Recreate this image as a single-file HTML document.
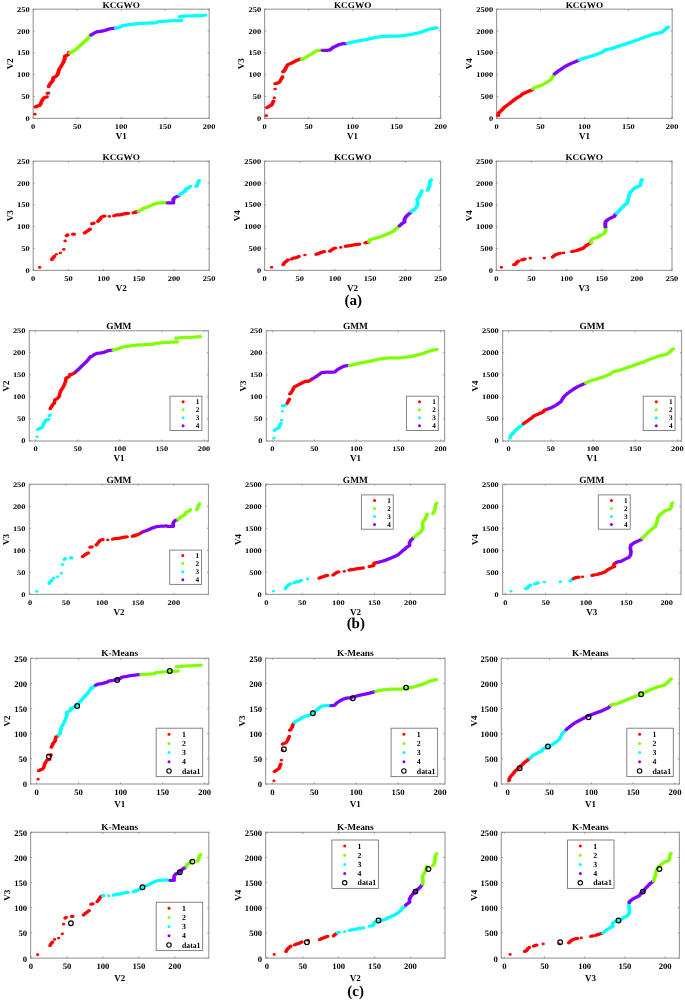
<!DOCTYPE html>
<html><head><meta charset="utf-8"><style>
html,body{margin:0;padding:0;background:#fff;}
svg{display:block;filter:blur(0.35px);}
text{font-family:"Liberation Serif",serif;fill:#000;text-rendering:geometricPrecision;}
.tk{font-size:8.0px;font-weight:bold;}
.lb{font-size:9.0px;font-weight:bold;}
.tt{font-size:9.2px;font-weight:bold;}
.lg{font-size:7.2px;font-weight:bold;}
.lgc{font-size:7.8px;font-weight:bold;}
.pl{font-size:15px;font-weight:bold;}
</style></head><body>
<svg width="685" height="1000" viewBox="0 0 685 1000">
<rect width="685" height="1000" fill="#fff"/>
<rect x="33.2" y="9.2" width="176.0" height="109.2" fill="none" stroke="#9c9c9c" stroke-width="1.15"/>
<path d="M33.2 118.4v-1.6M33.2 9.2v1.6" stroke="#888" stroke-width="0.8"/>
<text transform="translate(33.20,128.70) scale(1.16,1)" font-size="7.3" font-weight="bold" text-anchor="middle">0</text>
<path d="M77.2 118.4v-1.6M77.2 9.2v1.6" stroke="#888" stroke-width="0.8"/>
<text transform="translate(77.20,128.70) scale(1.16,1)" font-size="7.3" font-weight="bold" text-anchor="middle">50</text>
<path d="M121.2 118.4v-1.6M121.2 9.2v1.6" stroke="#888" stroke-width="0.8"/>
<text transform="translate(121.20,128.70) scale(1.16,1)" font-size="7.3" font-weight="bold" text-anchor="middle">100</text>
<path d="M165.2 118.4v-1.6M165.2 9.2v1.6" stroke="#888" stroke-width="0.8"/>
<text transform="translate(165.20,128.70) scale(1.16,1)" font-size="7.3" font-weight="bold" text-anchor="middle">150</text>
<path d="M209.2 118.4v-1.6M209.2 9.2v1.6" stroke="#888" stroke-width="0.8"/>
<text transform="translate(209.20,128.70) scale(1.16,1)" font-size="7.3" font-weight="bold" text-anchor="middle">200</text>
<path d="M33.2 118.4h1.6M209.2 118.4h-1.6" stroke="#888" stroke-width="0.8"/>
<text transform="translate(29.80,120.90) scale(1.16,1)" font-size="7.3" font-weight="bold" text-anchor="end">0</text>
<path d="M33.2 96.6h1.6M209.2 96.6h-1.6" stroke="#888" stroke-width="0.8"/>
<text transform="translate(29.80,99.06) scale(1.16,1)" font-size="7.3" font-weight="bold" text-anchor="end">50</text>
<path d="M33.2 74.7h1.6M209.2 74.7h-1.6" stroke="#888" stroke-width="0.8"/>
<text transform="translate(29.80,77.22) scale(1.16,1)" font-size="7.3" font-weight="bold" text-anchor="end">100</text>
<path d="M33.2 52.9h1.6M209.2 52.9h-1.6" stroke="#888" stroke-width="0.8"/>
<text transform="translate(29.80,55.38) scale(1.16,1)" font-size="7.3" font-weight="bold" text-anchor="end">150</text>
<path d="M33.2 31.0h1.6M209.2 31.0h-1.6" stroke="#888" stroke-width="0.8"/>
<text transform="translate(29.80,33.54) scale(1.16,1)" font-size="7.3" font-weight="bold" text-anchor="end">200</text>
<path d="M33.2 9.2h1.6M209.2 9.2h-1.6" stroke="#888" stroke-width="0.8"/>
<text transform="translate(29.80,11.70) scale(1.16,1)" font-size="7.3" font-weight="bold" text-anchor="end">250</text>
<text x="121.2" y="139.0" class="lb" text-anchor="middle">V1</text>
<text transform="translate(12.7,63.8) rotate(-90)" x="0" y="0" class="lb" text-anchor="middle">V2</text>
<text transform="translate(121.20,8.10) scale(1.04,1)" font-size="8.9" font-weight="bold" text-anchor="middle">KCGWO</text>
<path transform="scale(1,0.7714)" d="M35.5 138.6h0M36.4 138.0h0M37.3 137.4h0M38.4 137.1h0M39.5 136.7h0M40.5 135.2h0M40.9 133.7h0M41.4 132.3h0M41.9 130.9h0M42.4 129.5h0M43.1 128.3h0M43.9 127.0h0M44.8 126.6h0M45.8 126.1h0M46.8 125.7h0M47.5 121.0h0M48.2 120.6h0M48.7 112.1h0M49.2 110.8h0M49.7 109.6h0M50.4 108.2h0M51.2 106.8h0M51.9 105.8h0M52.6 104.9h0M52.9 103.5h0M53.1 102.1h0M53.4 100.7h0M54.5 100.0h0M55.5 99.2h0M56.5 98.1h0M57.4 96.9h0M58.0 95.4h0M58.2 94.0h0M58.5 92.6h0M58.8 91.2h0M59.2 89.7h0M59.9 88.3h0M60.7 86.9h0M61.4 85.5h0M62.1 84.1h0M62.6 82.8h0M63.1 81.5h0M63.6 80.3h0M63.9 79.1h0M64.3 78.0h0M64.6 76.9h0M64.7 75.5h0M64.9 74.1h0M65.0 72.7h0M65.9 72.2h0M66.8 71.8h0M68.2 70.8h0M68.7 69.4h0M69.1 68.0h0" stroke="#ff0000" stroke-width="4.20" stroke-linecap="round" fill="none"/>
<path transform="scale(1,0.7714)" d="M70.1 68.6h0M71.1 67.9h0M72.0 67.3h0M72.9 66.7h0M73.8 66.1h0M74.5 65.3h0M75.3 64.5h0M76.0 63.7h0M76.7 62.9h0M77.4 62.1h0M78.2 61.4h0M78.9 60.5h0M79.6 59.6h0M80.4 58.7h0M81.1 57.8h0M81.8 56.9h0M82.6 56.1h0M83.3 55.2h0M84.0 54.4h0M84.7 53.5h0M85.5 52.7h0M86.2 51.8h0M86.9 51.0h0M87.5 50.0h0M88.2 49.1h0M88.8 48.1h0M89.4 47.2h0M90.0 46.2h0M90.6 45.3h0" stroke="#80ff00" stroke-width="4.20" stroke-linecap="round" fill="none"/>
<path transform="scale(1,0.7714)" d="M91.3 45.3h0M92.3 44.5h0M93.3 43.6h0M94.2 42.8h0M95.2 42.2h0M96.2 41.7h0M97.2 41.1h0M98.2 41.0h0M99.3 40.8h0M100.4 40.7h0M101.5 40.5h0M102.5 40.3h0M103.5 40.0h0M104.5 39.8h0M105.3 39.4h0M106.2 39.0h0M107.1 38.5h0M108.0 38.1h0M108.8 37.7h0M109.9 37.5h0M111.0 37.2h0M112.1 37.0h0M113.2 36.8h0M114.5 36.6h0" stroke="#8000ff" stroke-width="4.20" stroke-linecap="round" fill="none"/>
<path transform="scale(1,0.7714)" d="M115.8 36.4h0M116.8 36.1h0M117.7 35.8h0M118.6 35.5h0M119.6 35.2h0M120.5 34.9h0M121.4 34.1h0M122.3 33.3h0M123.2 33.1h0M124.1 33.0h0M124.9 32.8h0M125.8 32.6h0M126.7 32.5h0M127.6 32.3h0M128.5 32.1h0M129.4 32.0h0M130.3 31.8h0M131.2 31.6h0M132.1 31.5h0M133.0 31.3h0M134.0 31.2h0M134.9 31.1h0M135.9 30.9h0M136.8 30.8h0M137.8 30.7h0M138.7 30.6h0M139.7 30.4h0M140.7 30.3h0M141.6 30.3h0M142.5 30.2h0M143.4 30.2h0M144.3 30.1h0M145.2 30.1h0M146.1 30.0h0M147.0 30.0h0M147.9 30.0h0M148.8 29.9h0M149.7 29.9h0M150.6 29.8h0M151.5 29.8h0M152.4 29.7h0M153.3 29.7h0M154.2 29.6h0M155.1 29.6h0M156.0 29.5h0M157.5 28.3h0M158.5 28.2h0M159.5 28.1h0M160.4 28.0h0M161.4 27.9h0M162.4 27.8h0M163.4 27.7h0M164.3 27.6h0M165.3 27.5h0M166.3 27.4h0M167.3 27.3h0M168.2 27.1h0M169.2 27.1h0M170.1 27.0h0M171.0 27.0h0M172.0 26.9h0M172.9 26.9h0M173.8 26.8h0M174.8 26.7h0M175.7 26.7h0M176.6 26.6h0M177.6 26.6h0M178.5 26.5h0M179.4 26.5h0M180.3 26.4h0M181.3 26.4h0M179.7 21.6h0M180.7 21.5h0M181.7 21.4h0M182.7 21.2h0M183.7 21.1h0M184.7 21.0h0M185.7 20.9h0M186.6 20.8h0M187.6 20.7h0M188.5 20.7h0M189.4 20.7h0M190.3 20.6h0M191.2 20.6h0M192.2 20.5h0M193.1 20.5h0M194.0 20.5h0M194.9 20.4h0M195.8 20.4h0M196.9 20.3h0M197.9 20.3h0M198.9 20.2h0M199.9 20.1h0M200.9 20.1h0M202.0 20.0h0M203.1 19.9h0M204.2 19.7h0M205.3 19.6h0" stroke="#00ffff" stroke-width="4.20" stroke-linecap="round" fill="none"/>
<path transform="scale(1,0.7714)" d="M34.8 148.0h0" stroke="#ff0000" stroke-width="3.50" stroke-linecap="round" fill="none"/>
<rect x="264.6" y="9.2" width="176.0" height="109.2" fill="none" stroke="#9c9c9c" stroke-width="1.15"/>
<path d="M264.6 118.4v-1.6M264.6 9.2v1.6" stroke="#888" stroke-width="0.8"/>
<text transform="translate(264.60,128.70) scale(1.16,1)" font-size="7.3" font-weight="bold" text-anchor="middle">0</text>
<path d="M308.6 118.4v-1.6M308.6 9.2v1.6" stroke="#888" stroke-width="0.8"/>
<text transform="translate(308.60,128.70) scale(1.16,1)" font-size="7.3" font-weight="bold" text-anchor="middle">50</text>
<path d="M352.6 118.4v-1.6M352.6 9.2v1.6" stroke="#888" stroke-width="0.8"/>
<text transform="translate(352.60,128.70) scale(1.16,1)" font-size="7.3" font-weight="bold" text-anchor="middle">100</text>
<path d="M396.6 118.4v-1.6M396.6 9.2v1.6" stroke="#888" stroke-width="0.8"/>
<text transform="translate(396.60,128.70) scale(1.16,1)" font-size="7.3" font-weight="bold" text-anchor="middle">150</text>
<path d="M440.6 118.4v-1.6M440.6 9.2v1.6" stroke="#888" stroke-width="0.8"/>
<text transform="translate(440.60,128.70) scale(1.16,1)" font-size="7.3" font-weight="bold" text-anchor="middle">200</text>
<path d="M264.6 118.4h1.6M440.6 118.4h-1.6" stroke="#888" stroke-width="0.8"/>
<text transform="translate(261.20,120.90) scale(1.16,1)" font-size="7.3" font-weight="bold" text-anchor="end">0</text>
<path d="M264.6 96.6h1.6M440.6 96.6h-1.6" stroke="#888" stroke-width="0.8"/>
<text transform="translate(261.20,99.06) scale(1.16,1)" font-size="7.3" font-weight="bold" text-anchor="end">50</text>
<path d="M264.6 74.7h1.6M440.6 74.7h-1.6" stroke="#888" stroke-width="0.8"/>
<text transform="translate(261.20,77.22) scale(1.16,1)" font-size="7.3" font-weight="bold" text-anchor="end">100</text>
<path d="M264.6 52.9h1.6M440.6 52.9h-1.6" stroke="#888" stroke-width="0.8"/>
<text transform="translate(261.20,55.38) scale(1.16,1)" font-size="7.3" font-weight="bold" text-anchor="end">150</text>
<path d="M264.6 31.0h1.6M440.6 31.0h-1.6" stroke="#888" stroke-width="0.8"/>
<text transform="translate(261.20,33.54) scale(1.16,1)" font-size="7.3" font-weight="bold" text-anchor="end">200</text>
<path d="M264.6 9.2h1.6M440.6 9.2h-1.6" stroke="#888" stroke-width="0.8"/>
<text transform="translate(261.20,11.70) scale(1.16,1)" font-size="7.3" font-weight="bold" text-anchor="end">250</text>
<text x="352.6" y="139.0" class="lb" text-anchor="middle">V1</text>
<text transform="translate(244.1,63.8) rotate(-90)" x="0" y="0" class="lb" text-anchor="middle">V3</text>
<text transform="translate(352.60,8.10) scale(1.04,1)" font-size="8.9" font-weight="bold" text-anchor="middle">KCGWO</text>
<path transform="scale(1,0.7714)" d="M266.9 139.5h0M268.2 138.6h0M268.9 138.0h0M269.7 137.3h0M271.2 136.4h0M272.1 135.3h0M272.4 134.0h0M272.8 132.7h0M273.5 131.1h0M275.3 108.5h0M276.3 108.1h0M277.9 107.5h0M279.4 106.4h0M280.4 104.8h0M280.9 103.5h0M281.5 102.2h0M282.0 101.0h0M282.5 99.8h0M283.0 92.9h0M284.0 92.3h0M284.5 91.3h0M285.0 90.3h0M285.5 88.9h0M286.1 87.6h0M286.6 86.3h0M287.1 85.0h0M287.8 84.2h0M288.6 83.4h0M289.6 82.8h0M290.7 82.3h0M291.7 81.7h0M292.7 81.0h0M293.7 80.3h0M294.7 79.7h0M295.8 79.0h0M296.8 78.3h0M297.8 77.8h0M298.8 77.3h0M299.8 77.0h0M300.7 76.8h0" stroke="#ff0000" stroke-width="4.20" stroke-linecap="round" fill="none"/>
<path transform="scale(1,0.7714)" d="M301.9 77.0h0M302.9 76.4h0M303.9 75.7h0M304.8 75.0h0M305.6 74.4h0M306.5 73.7h0M307.3 73.0h0M308.2 72.4h0M309.0 71.7h0M310.1 71.1h0M311.1 70.4h0M312.1 69.4h0M313.1 68.4h0M314.0 67.7h0M314.8 66.9h0M315.7 66.2h0M317.0 65.8h0M318.2 65.5h0M319.4 65.4h0M320.6 65.2h0M321.8 65.1h0" stroke="#80ff00" stroke-width="4.20" stroke-linecap="round" fill="none"/>
<path transform="scale(1,0.7714)" d="M322.7 65.2h0M323.7 65.2h0M324.6 65.3h0M325.5 65.3h0M326.4 65.4h0M327.6 65.2h0M328.8 65.0h0M330.0 64.8h0M330.9 63.8h0M331.8 62.8h0M332.7 61.8h0M333.6 61.2h0M334.5 60.6h0M335.4 60.1h0M336.4 59.5h0M337.3 58.9h0M338.2 58.3h0M339.3 57.9h0M340.3 57.5h0M341.3 57.2h0M342.4 56.8h0M343.4 56.7h0M344.5 56.6h0M345.5 56.5h0M346.5 56.5h0" stroke="#8000ff" stroke-width="4.20" stroke-linecap="round" fill="none"/>
<path transform="scale(1,0.7714)" d="M347.5 56.2h0M348.4 55.9h0M349.3 55.6h0M350.2 55.3h0M351.2 55.1h0M352.1 54.8h0M353.0 54.5h0M353.9 54.2h0M354.9 53.9h0M355.8 53.7h0M356.7 53.5h0M357.6 53.3h0M358.6 53.1h0M359.5 52.9h0M360.4 52.7h0M361.3 52.5h0M362.3 52.3h0M363.2 52.0h0M364.1 51.8h0M365.0 51.6h0M366.0 51.4h0M366.9 51.2h0M367.8 50.9h0M368.7 50.6h0M369.7 50.3h0M370.6 50.1h0M371.5 49.8h0M372.4 49.5h0M373.4 49.3h0M374.3 49.0h0M375.2 48.7h0M376.1 48.5h0M377.1 48.2h0M378.0 48.1h0M378.9 47.9h0M379.8 47.8h0M380.8 47.7h0M381.7 47.6h0M382.6 47.5h0M383.5 47.3h0M384.4 47.2h0M385.4 47.1h0M386.3 47.0h0M387.2 46.9h0M388.1 46.7h0M389.1 46.7h0M390.0 46.7h0M390.9 46.7h0M391.8 46.7h0M392.8 46.7h0M393.7 46.7h0M394.6 46.7h0M395.5 46.7h0M396.5 46.7h0M397.4 46.7h0M398.3 46.7h0M399.2 46.7h0M400.2 46.6h0M401.1 46.4h0M402.0 46.3h0M402.9 46.1h0M403.9 46.0h0M404.8 45.8h0M405.7 45.7h0M406.6 45.5h0M407.6 45.4h0M408.5 45.2h0M409.4 45.1h0M410.3 44.9h0M411.3 44.7h0M412.2 44.4h0M413.1 44.1h0M414.0 43.9h0M415.0 43.6h0M415.9 43.3h0M416.8 43.1h0M417.7 42.8h0M418.7 42.5h0M419.6 42.3h0M420.5 42.0h0M421.4 41.7h0M422.4 41.3h0M423.3 40.8h0M424.2 40.4h0M425.1 40.0h0M426.1 39.5h0M427.0 39.1h0M427.9 38.6h0M428.8 38.2h0M429.8 37.8h0M430.7 37.5h0M431.7 37.2h0M432.7 37.0h0M433.7 36.7h0M434.7 36.5h0M435.7 36.2h0M436.7 36.0h0" stroke="#00ffff" stroke-width="4.20" stroke-linecap="round" fill="none"/>
<path transform="scale(1,0.7714)" d="M266.3 149.9h0M274.3 126.7h0M275.1 115.4h0" stroke="#ff0000" stroke-width="3.50" stroke-linecap="round" fill="none"/>
<rect x="496.6" y="9.2" width="175.6" height="109.2" fill="none" stroke="#9c9c9c" stroke-width="1.15"/>
<path d="M496.6 118.4v-1.6M496.6 9.2v1.6" stroke="#888" stroke-width="0.8"/>
<text transform="translate(496.60,128.70) scale(1.16,1)" font-size="7.3" font-weight="bold" text-anchor="middle">0</text>
<path d="M540.5 118.4v-1.6M540.5 9.2v1.6" stroke="#888" stroke-width="0.8"/>
<text transform="translate(540.50,128.70) scale(1.16,1)" font-size="7.3" font-weight="bold" text-anchor="middle">50</text>
<path d="M584.4 118.4v-1.6M584.4 9.2v1.6" stroke="#888" stroke-width="0.8"/>
<text transform="translate(584.40,128.70) scale(1.16,1)" font-size="7.3" font-weight="bold" text-anchor="middle">100</text>
<path d="M628.3 118.4v-1.6M628.3 9.2v1.6" stroke="#888" stroke-width="0.8"/>
<text transform="translate(628.30,128.70) scale(1.16,1)" font-size="7.3" font-weight="bold" text-anchor="middle">150</text>
<path d="M672.2 118.4v-1.6M672.2 9.2v1.6" stroke="#888" stroke-width="0.8"/>
<text transform="translate(672.20,128.70) scale(1.16,1)" font-size="7.3" font-weight="bold" text-anchor="middle">200</text>
<path d="M496.6 118.4h1.6M672.2 118.4h-1.6" stroke="#888" stroke-width="0.8"/>
<text transform="translate(493.20,120.90) scale(1.16,1)" font-size="7.3" font-weight="bold" text-anchor="end">0</text>
<path d="M496.6 96.6h1.6M672.2 96.6h-1.6" stroke="#888" stroke-width="0.8"/>
<text transform="translate(493.20,99.06) scale(1.16,1)" font-size="7.3" font-weight="bold" text-anchor="end">500</text>
<path d="M496.6 74.7h1.6M672.2 74.7h-1.6" stroke="#888" stroke-width="0.8"/>
<text transform="translate(493.20,77.22) scale(1.16,1)" font-size="7.3" font-weight="bold" text-anchor="end">1000</text>
<path d="M496.6 52.9h1.6M672.2 52.9h-1.6" stroke="#888" stroke-width="0.8"/>
<text transform="translate(493.20,55.38) scale(1.16,1)" font-size="7.3" font-weight="bold" text-anchor="end">1500</text>
<path d="M496.6 31.0h1.6M672.2 31.0h-1.6" stroke="#888" stroke-width="0.8"/>
<text transform="translate(493.20,33.54) scale(1.16,1)" font-size="7.3" font-weight="bold" text-anchor="end">2000</text>
<path d="M496.6 9.2h1.6M672.2 9.2h-1.6" stroke="#888" stroke-width="0.8"/>
<text transform="translate(493.20,11.70) scale(1.16,1)" font-size="7.3" font-weight="bold" text-anchor="end">2500</text>
<text x="584.4" y="139.0" class="lb" text-anchor="middle">V1</text>
<text transform="translate(471.8,63.8) rotate(-90)" x="0" y="0" class="lb" text-anchor="middle">V4</text>
<text transform="translate(584.40,8.10) scale(1.04,1)" font-size="8.9" font-weight="bold" text-anchor="middle">KCGWO</text>
<path transform="scale(1,0.7714)" d="M498.1 149.6h0M498.4 148.1h0M498.7 146.6h0M499.5 145.4h0M500.4 144.3h0M501.3 143.2h0M502.2 142.0h0M503.0 141.0h0M503.7 140.0h0M504.5 139.0h0M505.3 138.2h0M506.1 137.5h0M506.8 136.7h0M507.6 136.0h0M508.4 135.2h0M509.2 134.5h0M510.0 133.7h0M510.7 132.9h0M511.5 132.2h0M512.3 131.3h0M513.1 130.5h0M513.9 129.6h0M514.6 129.0h0M515.4 128.3h0M516.2 127.6h0M517.0 127.0h0M517.7 126.3h0M518.5 125.7h0M519.3 125.1h0M520.1 124.5h0M520.9 123.9h0M521.7 122.7h0M522.6 121.6h0M523.6 121.1h0M524.6 120.6h0M525.5 120.1h0M526.4 119.6h0M527.3 119.1h0M528.2 118.6h0M529.0 118.1h0M529.9 117.7h0M530.8 117.2h0M531.7 116.7h0M532.5 116.3h0" stroke="#ff0000" stroke-width="4.20" stroke-linecap="round" fill="none"/>
<path transform="scale(1,0.7714)" d="M533.1 115.2h0M533.7 114.0h0M534.6 113.6h0M535.5 113.3h0M536.3 112.9h0M537.2 112.5h0M538.1 112.1h0M539.0 111.7h0M539.8 111.4h0M540.7 111.0h0M541.6 110.4h0M542.5 109.9h0M543.3 109.3h0M544.2 108.7h0M545.1 108.0h0M546.0 107.4h0M546.8 106.7h0M547.7 106.0h0M548.6 105.2h0M549.5 104.3h0M550.4 103.5h0M551.2 102.7h0M551.7 101.6h0M552.3 100.5h0M552.8 99.5h0M553.3 98.4h0M553.8 97.4h0" stroke="#80ff00" stroke-width="4.20" stroke-linecap="round" fill="none"/>
<path transform="scale(1,0.7714)" d="M554.7 95.9h0M555.4 95.1h0M556.1 94.3h0M556.8 93.6h0M557.5 92.8h0M558.2 92.1h0M559.1 91.3h0M560.0 90.6h0M560.9 89.8h0M561.7 89.0h0M562.6 88.3h0M563.5 87.5h0M564.4 86.8h0M565.2 86.0h0M566.2 85.4h0M567.1 84.8h0M568.0 84.2h0M569.0 83.6h0M569.9 83.0h0M570.9 82.4h0M572.0 81.8h0M573.0 81.3h0M574.0 80.7h0M574.8 80.2h0M575.7 79.8h0M576.5 79.3h0M577.4 78.9h0M578.2 78.4h0" stroke="#8000ff" stroke-width="4.20" stroke-linecap="round" fill="none"/>
<path transform="scale(1,0.7714)" d="M579.3 77.3h0M580.3 77.0h0M581.3 76.6h0M582.2 76.2h0M583.2 75.9h0M584.2 75.5h0M585.1 75.2h0M586.1 74.8h0M587.1 74.4h0M588.0 74.1h0M588.9 73.7h0M589.9 73.4h0M590.8 73.0h0M591.7 72.6h0M592.6 72.3h0M593.6 71.9h0M594.5 71.6h0M595.4 71.2h0M596.3 70.7h0M597.1 70.3h0M598.0 69.8h0M598.9 69.4h0M599.7 69.0h0M600.6 68.5h0M601.5 68.1h0M602.3 67.6h0M603.3 66.6h0M604.2 65.7h0M605.1 64.7h0M606.1 64.5h0M607.1 64.2h0M608.1 64.0h0M609.1 63.7h0M610.1 63.4h0M611.1 63.2h0M612.1 62.9h0M613.0 62.5h0M613.9 62.1h0M614.8 61.7h0M615.8 61.2h0M616.7 60.8h0M617.6 60.4h0M618.5 60.0h0M619.4 59.6h0M620.4 59.2h0M621.3 58.9h0M622.2 58.5h0M623.1 58.1h0M624.1 57.7h0M625.0 57.3h0M625.9 56.9h0M626.8 56.5h0M627.8 56.1h0M628.7 55.7h0M629.6 55.3h0M630.5 54.9h0M631.5 54.5h0M632.4 54.1h0M633.3 53.7h0M634.2 53.3h0M635.2 52.9h0M636.1 52.5h0M637.0 52.1h0M637.9 51.7h0M638.9 51.2h0M639.8 50.7h0M640.7 50.2h0M641.6 49.7h0M642.6 49.3h0M643.5 48.8h0M644.4 48.3h0M645.3 47.8h0M646.3 47.4h0M647.2 47.0h0M648.1 46.6h0M649.0 46.2h0M650.0 45.8h0M650.9 45.4h0M651.8 45.0h0M652.7 44.6h0M653.7 44.2h0M654.7 44.0h0M655.6 43.7h0M656.6 43.5h0M657.6 43.2h0M658.6 42.9h0M659.6 42.7h0M660.6 42.4h0M661.5 41.7h0M662.4 41.0h0M663.4 40.3h0M664.1 39.4h0M664.8 38.5h0M665.5 37.7h0M666.3 36.8h0M667.0 36.0h0M668.1 35.2h0" stroke="#00ffff" stroke-width="4.20" stroke-linecap="round" fill="none"/>
<rect x="33.2" y="161.2" width="176.0" height="109.2" fill="none" stroke="#9c9c9c" stroke-width="1.15"/>
<path d="M33.2 270.4v-1.6M33.2 161.2v1.6" stroke="#888" stroke-width="0.8"/>
<text transform="translate(33.20,280.70) scale(1.16,1)" font-size="7.3" font-weight="bold" text-anchor="middle">0</text>
<path d="M68.4 270.4v-1.6M68.4 161.2v1.6" stroke="#888" stroke-width="0.8"/>
<text transform="translate(68.40,280.70) scale(1.16,1)" font-size="7.3" font-weight="bold" text-anchor="middle">50</text>
<path d="M103.6 270.4v-1.6M103.6 161.2v1.6" stroke="#888" stroke-width="0.8"/>
<text transform="translate(103.60,280.70) scale(1.16,1)" font-size="7.3" font-weight="bold" text-anchor="middle">100</text>
<path d="M138.8 270.4v-1.6M138.8 161.2v1.6" stroke="#888" stroke-width="0.8"/>
<text transform="translate(138.80,280.70) scale(1.16,1)" font-size="7.3" font-weight="bold" text-anchor="middle">150</text>
<path d="M174.0 270.4v-1.6M174.0 161.2v1.6" stroke="#888" stroke-width="0.8"/>
<text transform="translate(174.00,280.70) scale(1.16,1)" font-size="7.3" font-weight="bold" text-anchor="middle">200</text>
<path d="M209.2 270.4v-1.6M209.2 161.2v1.6" stroke="#888" stroke-width="0.8"/>
<text transform="translate(209.20,280.70) scale(1.16,1)" font-size="7.3" font-weight="bold" text-anchor="middle">250</text>
<path d="M33.2 270.4h1.6M209.2 270.4h-1.6" stroke="#888" stroke-width="0.8"/>
<text transform="translate(29.80,272.90) scale(1.16,1)" font-size="7.3" font-weight="bold" text-anchor="end">0</text>
<path d="M33.2 248.6h1.6M209.2 248.6h-1.6" stroke="#888" stroke-width="0.8"/>
<text transform="translate(29.80,251.06) scale(1.16,1)" font-size="7.3" font-weight="bold" text-anchor="end">50</text>
<path d="M33.2 226.7h1.6M209.2 226.7h-1.6" stroke="#888" stroke-width="0.8"/>
<text transform="translate(29.80,229.22) scale(1.16,1)" font-size="7.3" font-weight="bold" text-anchor="end">100</text>
<path d="M33.2 204.9h1.6M209.2 204.9h-1.6" stroke="#888" stroke-width="0.8"/>
<text transform="translate(29.80,207.38) scale(1.16,1)" font-size="7.3" font-weight="bold" text-anchor="end">150</text>
<path d="M33.2 183.0h1.6M209.2 183.0h-1.6" stroke="#888" stroke-width="0.8"/>
<text transform="translate(29.80,185.54) scale(1.16,1)" font-size="7.3" font-weight="bold" text-anchor="end">200</text>
<path d="M33.2 161.2h1.6M209.2 161.2h-1.6" stroke="#888" stroke-width="0.8"/>
<text transform="translate(29.80,163.70) scale(1.16,1)" font-size="7.3" font-weight="bold" text-anchor="end">250</text>
<text x="121.2" y="291.0" class="lb" text-anchor="middle">V2</text>
<text transform="translate(12.7,215.8) rotate(-90)" x="0" y="0" class="lb" text-anchor="middle">V3</text>
<text transform="translate(121.20,160.10) scale(1.04,1)" font-size="8.9" font-weight="bold" text-anchor="middle">KCGWO</text>
<path transform="scale(1,0.7714)" d="M51.9 336.3h0M52.5 335.2h0M53.1 334.2h0M54.2 332.5h0M66.7 305.5h0M67.5 304.6h0M73.1 303.6h0M74.0 303.6h0M84.7 301.9h0M85.8 300.9h0M86.8 299.9h0M87.6 299.2h0M88.4 298.5h0M89.2 297.8h0M90.0 297.1h0M92.1 289.9h0M93.7 289.4h0M98.0 286.9h0M98.8 285.8h0M99.6 284.7h0M100.2 283.7h0M100.7 282.7h0M101.3 281.7h0M102.4 280.7h0M103.4 280.4h0M104.5 280.1h0M114.1 279.7h0M115.3 279.1h0M116.5 278.6h0M117.6 278.6h0M118.6 278.6h0M119.7 278.6h0M120.9 278.3h0M122.1 278.0h0M123.2 277.6h0M124.3 277.3h0M125.3 277.0h0M126.2 276.8h0M127.2 276.7h0M128.1 276.5h0M133.4 275.9h0M135.0 274.9h0M136.6 274.2h0M135.5 275.3h0M136.6 274.7h0M137.7 274.1h0" stroke="#ff0000" stroke-width="4.20" stroke-linecap="round" fill="none"/>
<path transform="scale(1,0.7714)" d="M138.6 273.6h0M139.6 273.2h0M140.5 272.7h0M141.3 272.0h0M142.1 271.3h0M142.9 270.6h0M143.8 269.9h0M144.9 269.5h0M145.9 269.1h0M147.0 268.7h0M147.9 268.2h0M148.7 267.7h0M149.5 267.2h0M150.3 266.7h0M151.4 266.1h0M152.5 265.5h0M153.6 264.9h0M154.7 264.4h0M155.8 263.9h0M156.9 263.5h0M158.0 263.3h0M159.1 263.2h0M160.2 263.0h0M161.3 263.0h0M162.4 262.9h0M163.5 262.8h0M164.6 262.7h0M165.7 262.6h0M166.8 262.5h0" stroke="#80ff00" stroke-width="4.20" stroke-linecap="round" fill="none"/>
<path transform="scale(1,0.7714)" d="M167.8 263.0h0M168.8 263.0h0M169.7 263.0h0M170.6 263.0h0M171.5 263.0h0M172.4 263.0h0M173.3 263.0h0M173.3 261.5h0M173.3 260.0h0M173.3 258.5h0M173.9 257.6h0M174.4 256.6h0M175.0 255.7h0M176.1 255.2h0M177.2 254.7h0M178.2 254.2h0M178.8 253.5h0" stroke="#8000ff" stroke-width="4.20" stroke-linecap="round" fill="none"/>
<path transform="scale(1,0.7714)" d="M179.3 252.5h0M180.3 251.7h0M181.2 250.8h0M182.1 250.0h0M182.9 249.3h0M183.7 248.7h0M184.5 248.1h0M185.4 247.4h0M185.6 246.2h0M185.9 245.0h0M186.8 244.5h0M187.7 244.1h0M188.7 243.6h0M189.5 242.5h0M190.3 241.5h0M196.3 241.5h0M196.9 240.4h0M197.4 239.3h0M197.6 238.2h0M197.8 237.0h0M198.0 235.8h0M199.1 234.1h0" stroke="#00ffff" stroke-width="4.20" stroke-linecap="round" fill="none"/>
<path transform="scale(1,0.7714)" d="M39.7 346.7h0M56.3 329.6h0M60.3 328.0h0M63.8 323.4h0M65.1 312.3h0M109.3 280.5h0" stroke="#ff0000" stroke-width="3.50" stroke-linecap="round" fill="none"/>
<rect x="264.6" y="161.2" width="176.0" height="109.2" fill="none" stroke="#9c9c9c" stroke-width="1.15"/>
<path d="M264.6 270.4v-1.6M264.6 161.2v1.6" stroke="#888" stroke-width="0.8"/>
<text transform="translate(264.60,280.70) scale(1.16,1)" font-size="7.3" font-weight="bold" text-anchor="middle">0</text>
<path d="M299.8 270.4v-1.6M299.8 161.2v1.6" stroke="#888" stroke-width="0.8"/>
<text transform="translate(299.80,280.70) scale(1.16,1)" font-size="7.3" font-weight="bold" text-anchor="middle">50</text>
<path d="M335.0 270.4v-1.6M335.0 161.2v1.6" stroke="#888" stroke-width="0.8"/>
<text transform="translate(335.00,280.70) scale(1.16,1)" font-size="7.3" font-weight="bold" text-anchor="middle">100</text>
<path d="M370.2 270.4v-1.6M370.2 161.2v1.6" stroke="#888" stroke-width="0.8"/>
<text transform="translate(370.20,280.70) scale(1.16,1)" font-size="7.3" font-weight="bold" text-anchor="middle">150</text>
<path d="M405.4 270.4v-1.6M405.4 161.2v1.6" stroke="#888" stroke-width="0.8"/>
<text transform="translate(405.40,280.70) scale(1.16,1)" font-size="7.3" font-weight="bold" text-anchor="middle">200</text>
<path d="M440.6 270.4v-1.6M440.6 161.2v1.6" stroke="#888" stroke-width="0.8"/>
<text transform="translate(440.60,280.70) scale(1.16,1)" font-size="7.3" font-weight="bold" text-anchor="middle">250</text>
<path d="M264.6 270.4h1.6M440.6 270.4h-1.6" stroke="#888" stroke-width="0.8"/>
<text transform="translate(261.20,272.90) scale(1.16,1)" font-size="7.3" font-weight="bold" text-anchor="end">0</text>
<path d="M264.6 248.6h1.6M440.6 248.6h-1.6" stroke="#888" stroke-width="0.8"/>
<text transform="translate(261.20,251.06) scale(1.16,1)" font-size="7.3" font-weight="bold" text-anchor="end">500</text>
<path d="M264.6 226.7h1.6M440.6 226.7h-1.6" stroke="#888" stroke-width="0.8"/>
<text transform="translate(261.20,229.22) scale(1.16,1)" font-size="7.3" font-weight="bold" text-anchor="end">1000</text>
<path d="M264.6 204.9h1.6M440.6 204.9h-1.6" stroke="#888" stroke-width="0.8"/>
<text transform="translate(261.20,207.38) scale(1.16,1)" font-size="7.3" font-weight="bold" text-anchor="end">1500</text>
<path d="M264.6 183.0h1.6M440.6 183.0h-1.6" stroke="#888" stroke-width="0.8"/>
<text transform="translate(261.20,185.54) scale(1.16,1)" font-size="7.3" font-weight="bold" text-anchor="end">2000</text>
<path d="M264.6 161.2h1.6M440.6 161.2h-1.6" stroke="#888" stroke-width="0.8"/>
<text transform="translate(261.20,163.70) scale(1.16,1)" font-size="7.3" font-weight="bold" text-anchor="end">2500</text>
<text x="352.6" y="291.0" class="lb" text-anchor="middle">V2</text>
<text transform="translate(239.8,215.8) rotate(-90)" x="0" y="0" class="lb" text-anchor="middle">V4</text>
<text transform="translate(352.60,160.10) scale(1.04,1)" font-size="8.9" font-weight="bold" text-anchor="middle">KCGWO</text>
<path transform="scale(1,0.7714)" d="M283.4 343.1h0M283.9 342.0h0M284.4 340.8h0M285.7 339.2h0M286.4 338.5h0M287.2 337.7h0M287.9 337.0h0M291.8 335.6h0M292.7 335.1h0M293.5 334.7h0M294.8 334.4h0M296.2 334.0h0M297.0 333.5h0M297.9 333.0h0M298.8 332.4h0M316.3 329.7h0M317.2 329.2h0M318.1 328.8h0M318.9 328.3h0M319.8 328.0h0M320.7 327.6h0M321.6 327.2h0M322.4 326.8h0M323.3 326.4h0M324.2 326.1h0M330.0 325.6h0M331.2 324.2h0M332.1 323.5h0M333.0 322.7h0M334.1 322.1h0M335.2 321.5h0M345.7 319.3h0M346.7 319.0h0M347.7 318.8h0M348.7 318.6h0M350.0 318.3h0M351.3 318.1h0M352.7 317.8h0M354.0 317.4h0M355.3 317.2h0M356.6 317.0h0M357.9 316.8h0M359.2 316.5h0M365.4 314.7h0M367.1 314.3h0M368.2 313.9h0" stroke="#ff0000" stroke-width="4.20" stroke-linecap="round" fill="none"/>
<path transform="scale(1,0.7714)" d="M369.2 313.6h0M369.6 312.0h0M370.0 310.5h0M371.1 310.2h0M372.2 309.8h0M373.3 309.5h0M374.4 309.1h0M375.5 308.7h0M376.6 308.4h0M377.7 308.0h0M378.8 307.6h0M379.9 307.2h0M380.9 306.7h0M382.0 306.1h0M383.1 305.5h0M384.2 305.0h0M385.3 304.4h0M386.4 303.8h0M387.5 303.2h0M388.6 302.6h0M389.7 302.0h0M390.5 301.5h0M391.4 300.9h0M392.2 300.4h0M393.0 299.9h0M393.8 299.0h0M394.6 298.1h0M395.5 297.2h0M396.3 296.3h0M397.1 295.4h0M397.9 294.4h0M398.7 293.5h0" stroke="#80ff00" stroke-width="4.20" stroke-linecap="round" fill="none"/>
<path transform="scale(1,0.7714)" d="M399.6 292.8h0M400.3 291.8h0M401.0 290.9h0M401.8 289.9h0M402.7 289.2h0M403.6 288.5h0M404.5 287.8h0M404.5 286.6h0M404.5 285.4h0M404.5 284.2h0M405.0 283.1h0M405.6 281.9h0M406.1 280.7h0M406.9 279.7h0M407.6 278.8h0M408.3 277.9h0M409.3 276.8h0M410.3 275.7h0" stroke="#8000ff" stroke-width="4.20" stroke-linecap="round" fill="none"/>
<path transform="scale(1,0.7714)" d="M411.1 274.3h0M412.0 273.6h0M412.9 272.9h0M413.8 272.2h0M414.5 271.2h0M415.3 270.3h0M416.0 269.3h0M416.5 268.2h0M417.1 267.0h0M417.6 265.8h0M417.6 264.4h0M417.6 263.0h0M417.6 261.5h0M417.4 260.1h0M417.1 258.7h0M417.6 257.7h0M418.2 256.8h0M418.7 255.9h0M419.3 254.7h0M419.8 253.5h0M420.4 252.3h0M420.7 251.1h0M421.1 249.9h0M421.5 248.8h0M421.7 247.3h0M427.5 246.6h0M428.0 245.6h0M428.6 244.5h0M428.9 243.1h0M429.3 241.7h0M429.7 240.2h0M429.7 238.8h0M429.7 237.4h0M429.9 236.0h0M430.2 234.6h0M431.1 233.1h0" stroke="#00ffff" stroke-width="4.20" stroke-linecap="round" fill="none"/>
<path transform="scale(1,0.7714)" d="M271.6 346.5h0M304.9 330.6h0M340.8 320.8h0" stroke="#ff0000" stroke-width="3.50" stroke-linecap="round" fill="none"/>
<rect x="496.3" y="161.2" width="175.7" height="109.2" fill="none" stroke="#9c9c9c" stroke-width="1.15"/>
<path d="M496.3 270.4v-1.6M496.3 161.2v1.6" stroke="#888" stroke-width="0.8"/>
<text transform="translate(496.30,280.70) scale(1.16,1)" font-size="7.3" font-weight="bold" text-anchor="middle">0</text>
<path d="M531.4 270.4v-1.6M531.4 161.2v1.6" stroke="#888" stroke-width="0.8"/>
<text transform="translate(531.44,280.70) scale(1.16,1)" font-size="7.3" font-weight="bold" text-anchor="middle">50</text>
<path d="M566.6 270.4v-1.6M566.6 161.2v1.6" stroke="#888" stroke-width="0.8"/>
<text transform="translate(566.58,280.70) scale(1.16,1)" font-size="7.3" font-weight="bold" text-anchor="middle">100</text>
<path d="M601.7 270.4v-1.6M601.7 161.2v1.6" stroke="#888" stroke-width="0.8"/>
<text transform="translate(601.72,280.70) scale(1.16,1)" font-size="7.3" font-weight="bold" text-anchor="middle">150</text>
<path d="M636.9 270.4v-1.6M636.9 161.2v1.6" stroke="#888" stroke-width="0.8"/>
<text transform="translate(636.86,280.70) scale(1.16,1)" font-size="7.3" font-weight="bold" text-anchor="middle">200</text>
<path d="M672.0 270.4v-1.6M672.0 161.2v1.6" stroke="#888" stroke-width="0.8"/>
<text transform="translate(672.00,280.70) scale(1.16,1)" font-size="7.3" font-weight="bold" text-anchor="middle">250</text>
<path d="M496.3 270.4h1.6M672.0 270.4h-1.6" stroke="#888" stroke-width="0.8"/>
<text transform="translate(492.90,272.90) scale(1.16,1)" font-size="7.3" font-weight="bold" text-anchor="end">0</text>
<path d="M496.3 248.6h1.6M672.0 248.6h-1.6" stroke="#888" stroke-width="0.8"/>
<text transform="translate(492.90,251.06) scale(1.16,1)" font-size="7.3" font-weight="bold" text-anchor="end">500</text>
<path d="M496.3 226.7h1.6M672.0 226.7h-1.6" stroke="#888" stroke-width="0.8"/>
<text transform="translate(492.90,229.22) scale(1.16,1)" font-size="7.3" font-weight="bold" text-anchor="end">1000</text>
<path d="M496.3 204.9h1.6M672.0 204.9h-1.6" stroke="#888" stroke-width="0.8"/>
<text transform="translate(492.90,207.38) scale(1.16,1)" font-size="7.3" font-weight="bold" text-anchor="end">1500</text>
<path d="M496.3 183.0h1.6M672.0 183.0h-1.6" stroke="#888" stroke-width="0.8"/>
<text transform="translate(492.90,185.54) scale(1.16,1)" font-size="7.3" font-weight="bold" text-anchor="end">2000</text>
<path d="M496.3 161.2h1.6M672.0 161.2h-1.6" stroke="#888" stroke-width="0.8"/>
<text transform="translate(492.90,163.70) scale(1.16,1)" font-size="7.3" font-weight="bold" text-anchor="end">2500</text>
<text x="584.1" y="291.0" class="lb" text-anchor="middle">V3</text>
<text transform="translate(471.5,215.8) rotate(-90)" x="0" y="0" class="lb" text-anchor="middle">V4</text>
<text transform="translate(584.15,160.10) scale(1.04,1)" font-size="8.9" font-weight="bold" text-anchor="middle">KCGWO</text>
<path transform="scale(1,0.7714)" d="M514.1 343.1h0M515.0 342.5h0M515.9 342.0h0M516.5 340.8h0M517.1 339.7h0M518.2 338.6h0M522.0 337.0h0M522.9 336.6h0M523.8 336.2h0M524.7 335.8h0M552.7 333.3h0M553.9 331.7h0M554.8 330.9h0M555.7 330.2h0M556.8 329.6h0M557.9 329.0h0M559.1 328.7h0M560.2 328.3h0M572.0 326.1h0M573.7 325.6h0M576.3 324.9h0M577.2 324.5h0M578.1 324.2h0M579.0 323.8h0M579.8 323.4h0M580.7 323.0h0M581.6 322.7h0M582.5 322.1h0M583.3 321.5h0M584.2 320.4h0M585.1 319.3h0M586.0 318.5h0M586.9 317.7h0M587.7 317.0h0M588.6 316.4h0M589.5 315.8h0M590.4 315.3h0M590.6 315.0h0M590.8 313.7h0" stroke="#ff0000" stroke-width="4.20" stroke-linecap="round" fill="none"/>
<path transform="scale(1,0.7714)" d="M591.2 314.7h0M591.0 312.5h0M591.2 311.2h0M591.9 310.4h0M592.7 309.7h0M593.5 308.9h0M594.7 308.7h0M595.8 308.4h0M597.0 308.2h0M597.9 307.4h0M598.8 306.7h0M599.6 305.9h0M600.5 305.2h0M601.4 304.6h0M602.3 304.0h0M603.1 303.4h0M604.0 302.9h0M604.5 301.9h0M604.9 300.9h0M605.4 299.9h0M605.5 298.3h0M605.6 296.8h0M605.8 295.3h0" stroke="#80ff00" stroke-width="4.20" stroke-linecap="round" fill="none"/>
<path transform="scale(1,0.7714)" d="M605.4 293.8h0M605.3 292.5h0M605.3 291.3h0M605.2 290.0h0M605.5 288.5h0M605.8 287.0h0M606.5 286.2h0M607.2 285.5h0M608.0 284.7h0M608.7 284.0h0M609.6 283.4h0M610.4 282.8h0M611.3 282.3h0M612.2 281.7h0M613.4 280.9h0M614.5 280.2h0M615.0 279.2h0M615.5 278.2h0M615.9 277.1h0" stroke="#8000ff" stroke-width="4.20" stroke-linecap="round" fill="none"/>
<path transform="scale(1,0.7714)" d="M616.7 276.4h0M617.4 275.6h0M618.0 274.7h0M618.6 273.8h0M619.2 272.9h0M619.8 272.0h0M620.4 271.1h0M621.1 270.2h0M621.8 269.3h0M622.5 268.4h0M623.2 267.5h0M623.9 266.5h0M624.6 265.8h0M625.3 265.0h0M626.1 264.3h0M626.8 263.5h0M627.2 262.3h0M627.6 261.0h0M628.0 259.7h0M628.2 258.5h0M628.3 257.2h0M628.5 255.9h0M628.7 254.7h0M628.9 253.4h0M629.1 252.2h0M629.7 250.9h0M630.3 249.6h0M630.9 248.4h0M631.7 247.4h0M632.4 246.4h0M633.2 245.4h0M634.0 244.6h0M634.8 243.8h0M635.5 243.1h0M636.5 242.6h0M637.5 242.1h0M638.5 241.6h0M639.5 240.8h0M640.5 240.1h0M640.6 238.5h0M640.8 237.0h0M641.1 235.5h0M641.4 234.0h0M642.0 232.8h0" stroke="#00ffff" stroke-width="4.20" stroke-linecap="round" fill="none"/>
<path transform="scale(1,0.7714)" d="M501.4 346.5h0M530.3 334.7h0M544.3 334.5h0M563.6 327.9h0" stroke="#ff0000" stroke-width="3.50" stroke-linecap="round" fill="none"/>
<rect x="29.3" y="330.7" width="179.1" height="110.3" fill="none" stroke="#9c9c9c" stroke-width="1.15"/>
<path d="M35.6 441.0v-1.6M35.6 330.7v1.6" stroke="#888" stroke-width="0.8"/>
<text transform="translate(35.60,451.20) scale(1.2,1)" font-size="7.0" font-weight="bold" text-anchor="middle">0</text>
<path d="M77.7 441.0v-1.6M77.7 330.7v1.6" stroke="#888" stroke-width="0.8"/>
<text transform="translate(77.70,451.20) scale(1.2,1)" font-size="7.0" font-weight="bold" text-anchor="middle">50</text>
<path d="M119.8 441.0v-1.6M119.8 330.7v1.6" stroke="#888" stroke-width="0.8"/>
<text transform="translate(119.80,451.20) scale(1.2,1)" font-size="7.0" font-weight="bold" text-anchor="middle">100</text>
<path d="M161.9 441.0v-1.6M161.9 330.7v1.6" stroke="#888" stroke-width="0.8"/>
<text transform="translate(161.90,451.20) scale(1.2,1)" font-size="7.0" font-weight="bold" text-anchor="middle">150</text>
<path d="M204.0 441.0v-1.6M204.0 330.7v1.6" stroke="#888" stroke-width="0.8"/>
<text transform="translate(204.00,451.20) scale(1.2,1)" font-size="7.0" font-weight="bold" text-anchor="middle">200</text>
<path d="M29.3 441.0h1.6M208.4 441.0h-1.6" stroke="#888" stroke-width="0.8"/>
<text transform="translate(25.50,443.40) scale(1.2,1)" font-size="7.0" font-weight="bold" text-anchor="end">0</text>
<path d="M29.3 418.9h1.6M208.4 418.9h-1.6" stroke="#888" stroke-width="0.8"/>
<text transform="translate(25.50,421.34) scale(1.2,1)" font-size="7.0" font-weight="bold" text-anchor="end">50</text>
<path d="M29.3 396.9h1.6M208.4 396.9h-1.6" stroke="#888" stroke-width="0.8"/>
<text transform="translate(25.50,399.28) scale(1.2,1)" font-size="7.0" font-weight="bold" text-anchor="end">100</text>
<path d="M29.3 374.8h1.6M208.4 374.8h-1.6" stroke="#888" stroke-width="0.8"/>
<text transform="translate(25.50,377.22) scale(1.2,1)" font-size="7.0" font-weight="bold" text-anchor="end">150</text>
<path d="M29.3 352.8h1.6M208.4 352.8h-1.6" stroke="#888" stroke-width="0.8"/>
<text transform="translate(25.50,355.16) scale(1.2,1)" font-size="7.0" font-weight="bold" text-anchor="end">200</text>
<path d="M29.3 330.7h1.6M208.4 330.7h-1.6" stroke="#888" stroke-width="0.8"/>
<text transform="translate(25.50,333.10) scale(1.2,1)" font-size="7.0" font-weight="bold" text-anchor="end">250</text>
<text x="118.9" y="461.3" class="lb" text-anchor="middle">V1</text>
<text transform="translate(8.8,385.9) rotate(-90)" x="0" y="0" class="lb" text-anchor="middle">V2</text>
<text transform="translate(118.85,328.90) scale(1.0,1)" font-size="9.4" font-weight="bold" text-anchor="middle">GMM</text>
<path transform="scale(1,0.8333)" d="M37.8 515.3h0M38.7 514.7h0M39.5 514.2h0M40.6 513.8h0M41.6 513.5h0M42.6 512.1h0M43.0 510.7h0M43.4 509.4h0M43.9 508.1h0M44.4 506.8h0M45.1 505.6h0M45.8 504.5h0M46.7 504.0h0M47.6 503.6h0M48.6 503.2h0M49.3 498.8h0M50.0 498.4h0" stroke="#00ffff" stroke-width="3.89" stroke-linecap="round" fill="none"/>
<path transform="scale(1,0.8333)" d="M50.4 490.5h0M50.9 489.3h0M51.4 488.2h0M52.1 486.9h0M52.8 485.5h0M53.5 484.6h0M54.2 483.8h0M54.4 482.5h0M54.7 481.2h0M54.9 479.9h0M55.9 479.2h0M57.0 478.5h0M57.9 477.4h0M58.8 476.3h0M59.4 474.9h0M59.6 473.6h0M59.8 472.3h0M60.1 470.9h0M60.5 469.6h0M61.2 468.3h0M61.9 467.0h0M62.6 465.6h0M63.3 464.3h0M63.7 463.1h0M64.2 461.9h0M64.7 460.8h0M65.0 459.7h0M65.3 458.6h0M65.6 457.6h0M65.8 456.3h0M65.9 455.0h0M66.1 453.7h0M66.9 453.2h0M67.7 452.8h0M69.1 451.9h0M69.6 450.6h0M70.0 449.3h0M71.0 449.8h0M71.8 449.2h0M72.7 448.6h0M73.6 448.1h0M74.4 447.5h0M75.1 446.8h0" stroke="#ff0000" stroke-width="3.89" stroke-linecap="round" fill="none"/>
<path transform="scale(1,0.8333)" d="M75.8 446.0h0M76.5 445.3h0M77.2 444.5h0M77.9 443.8h0M78.6 443.1h0M79.3 442.2h0M80.0 441.4h0M80.7 440.6h0M81.4 439.8h0M82.1 438.9h0M82.8 438.1h0M83.5 437.3h0M84.2 436.5h0M84.9 435.7h0M85.6 434.9h0M86.3 434.1h0M87.0 433.3h0M87.6 432.4h0M88.2 431.6h0M88.8 430.7h0M89.3 429.8h0M89.9 428.9h0M90.5 428.0h0M91.2 428.0h0M92.1 427.3h0M93.1 426.5h0M94.0 425.7h0M94.9 425.2h0M95.9 424.7h0M96.8 424.1h0M97.8 424.0h0M98.9 423.9h0M99.9 423.7h0M101.0 423.6h0M101.9 423.4h0M102.8 423.1h0M103.8 422.9h0M104.8 422.4h0M105.9 421.9h0M106.9 421.4h0M108.0 420.9h0M109.0 420.7h0M110.1 420.5h0M111.1 420.3h0M112.2 420.1h0" stroke="#8000ff" stroke-width="3.89" stroke-linecap="round" fill="none"/>
<path transform="scale(1,0.8333)" d="M113.4 419.9h0M114.7 419.7h0M115.6 419.4h0M116.5 419.1h0M117.4 418.9h0M118.2 418.6h0M119.1 418.3h0M120.0 417.6h0M120.8 416.8h0M121.7 416.7h0M122.7 416.5h0M123.6 416.3h0M124.5 416.2h0M125.5 416.0h0M126.4 415.8h0M127.3 415.6h0M128.3 415.5h0M129.2 415.3h0M130.1 415.1h0M131.1 415.0h0M132.0 414.9h0M132.9 414.7h0M133.8 414.6h0M134.7 414.5h0M135.7 414.4h0M136.6 414.3h0M137.5 414.2h0M138.4 414.0h0M139.3 414.0h0M140.2 414.0h0M141.2 413.9h0M142.1 413.9h0M143.0 413.8h0M143.9 413.8h0M144.8 413.7h0M145.7 413.7h0M146.7 413.6h0M147.6 413.6h0M148.5 413.5h0M149.4 413.5h0M150.3 413.4h0M151.2 413.4h0M152.2 413.3h0M153.1 413.3h0M154.5 412.2h0M155.5 412.1h0M156.4 412.0h0M157.3 411.9h0M158.3 411.8h0M159.2 411.7h0M160.1 411.6h0M161.1 411.5h0M162.0 411.4h0M162.9 411.3h0M163.9 411.2h0M164.8 411.1h0M165.8 411.0h0M166.7 411.0h0M167.7 410.9h0M168.7 410.8h0M169.6 410.8h0M170.6 410.7h0M171.5 410.7h0M172.5 410.6h0M173.4 410.6h0M174.4 410.5h0M175.4 410.4h0M176.3 410.4h0M177.3 410.3h0M175.8 405.9h0M176.8 405.8h0M177.7 405.7h0M178.6 405.6h0M179.6 405.4h0M180.5 405.3h0M181.5 405.2h0M182.4 405.1h0M183.4 405.1h0M184.4 405.0h0M185.3 405.0h0M186.3 405.0h0M187.3 404.9h0M188.3 404.9h0M189.3 404.8h0M190.2 404.8h0M191.2 404.8h0M192.2 404.7h0M193.2 404.6h0M194.1 404.6h0M195.1 404.5h0M196.1 404.4h0M197.1 404.4h0M198.2 404.3h0M199.2 404.1h0M200.3 404.0h0" stroke="#80ff00" stroke-width="3.89" stroke-linecap="round" fill="none"/>
<path transform="scale(1,0.8333)" d="M37.1 524.1h0" stroke="#00ffff" stroke-width="3.24" stroke-linecap="round" fill="none"/>
<rect x="170.0" y="396.2" width="31.9" height="34.3" fill="#fff" stroke="#777" stroke-width="0.9"/>
<circle cx="183.1" cy="401.7" r="1.5" fill="#ff0000"/>
<text x="195.8" y="404.2" class="lg">1</text>
<circle cx="183.1" cy="409.8" r="1.5" fill="#80ff00"/>
<text x="195.8" y="412.2" class="lg">2</text>
<circle cx="183.1" cy="417.8" r="1.5" fill="#00ffff"/>
<text x="195.8" y="420.3" class="lg">3</text>
<circle cx="183.1" cy="425.8" r="1.5" fill="#8000ff"/>
<text x="195.8" y="428.3" class="lg">4</text>
<rect x="266.3" y="330.7" width="178.3" height="110.3" fill="none" stroke="#9c9c9c" stroke-width="1.15"/>
<path d="M272.3 441.0v-1.6M272.3 330.7v1.6" stroke="#888" stroke-width="0.8"/>
<text transform="translate(272.30,451.20) scale(1.2,1)" font-size="7.0" font-weight="bold" text-anchor="middle">0</text>
<path d="M314.4 441.0v-1.6M314.4 330.7v1.6" stroke="#888" stroke-width="0.8"/>
<text transform="translate(314.35,451.20) scale(1.2,1)" font-size="7.0" font-weight="bold" text-anchor="middle">50</text>
<path d="M356.4 441.0v-1.6M356.4 330.7v1.6" stroke="#888" stroke-width="0.8"/>
<text transform="translate(356.40,451.20) scale(1.2,1)" font-size="7.0" font-weight="bold" text-anchor="middle">100</text>
<path d="M398.4 441.0v-1.6M398.4 330.7v1.6" stroke="#888" stroke-width="0.8"/>
<text transform="translate(398.45,451.20) scale(1.2,1)" font-size="7.0" font-weight="bold" text-anchor="middle">150</text>
<path d="M440.5 441.0v-1.6M440.5 330.7v1.6" stroke="#888" stroke-width="0.8"/>
<text transform="translate(440.50,451.20) scale(1.2,1)" font-size="7.0" font-weight="bold" text-anchor="middle">200</text>
<path d="M266.3 441.0h1.6M444.6 441.0h-1.6" stroke="#888" stroke-width="0.8"/>
<text transform="translate(262.50,443.40) scale(1.2,1)" font-size="7.0" font-weight="bold" text-anchor="end">0</text>
<path d="M266.3 418.9h1.6M444.6 418.9h-1.6" stroke="#888" stroke-width="0.8"/>
<text transform="translate(262.50,421.34) scale(1.2,1)" font-size="7.0" font-weight="bold" text-anchor="end">50</text>
<path d="M266.3 396.9h1.6M444.6 396.9h-1.6" stroke="#888" stroke-width="0.8"/>
<text transform="translate(262.50,399.28) scale(1.2,1)" font-size="7.0" font-weight="bold" text-anchor="end">100</text>
<path d="M266.3 374.8h1.6M444.6 374.8h-1.6" stroke="#888" stroke-width="0.8"/>
<text transform="translate(262.50,377.22) scale(1.2,1)" font-size="7.0" font-weight="bold" text-anchor="end">150</text>
<path d="M266.3 352.8h1.6M444.6 352.8h-1.6" stroke="#888" stroke-width="0.8"/>
<text transform="translate(262.50,355.16) scale(1.2,1)" font-size="7.0" font-weight="bold" text-anchor="end">200</text>
<path d="M266.3 330.7h1.6M444.6 330.7h-1.6" stroke="#888" stroke-width="0.8"/>
<text transform="translate(262.50,333.10) scale(1.2,1)" font-size="7.0" font-weight="bold" text-anchor="end">250</text>
<text x="355.5" y="461.3" class="lb" text-anchor="middle">V1</text>
<text transform="translate(245.8,385.9) rotate(-90)" x="0" y="0" class="lb" text-anchor="middle">V3</text>
<text transform="translate(355.45,328.90) scale(1.0,1)" font-size="9.4" font-weight="bold" text-anchor="middle">GMM</text>
<path transform="scale(1,0.8333)" d="M274.5 516.2h0M275.7 515.3h0M277.2 514.1h0M278.6 513.2h0M279.4 512.2h0M279.8 511.0h0M280.1 509.7h0M280.8 508.2h0M282.6 487.2h0M283.5 486.8h0M285.0 486.2h0M286.5 485.2h0" stroke="#00ffff" stroke-width="3.89" stroke-linecap="round" fill="none"/>
<path transform="scale(1,0.8333)" d="M287.4 483.7h0M287.9 482.5h0M288.4 481.2h0M288.9 480.1h0M289.4 479.0h0M289.9 472.6h0M290.9 471.9h0M291.3 471.0h0M291.8 470.1h0M292.3 468.9h0M292.8 467.6h0M293.3 466.4h0M293.8 465.1h0M294.5 464.4h0M295.2 463.7h0M296.2 463.2h0M297.2 462.7h0M298.2 462.0h0M299.2 461.4h0M300.1 460.8h0M301.1 460.2h0M302.1 459.6h0M303.1 458.9h0M304.0 458.4h0M305.0 458.0h0M305.9 457.7h0M306.8 457.5h0M307.9 457.7h0M308.9 457.1h0M309.9 456.5h0M310.7 455.8h0M311.5 455.2h0" stroke="#ff0000" stroke-width="3.89" stroke-linecap="round" fill="none"/>
<path transform="scale(1,0.8333)" d="M312.3 454.6h0M313.2 454.0h0M314.0 453.4h0M314.8 452.8h0M315.8 452.1h0M316.7 451.5h0M317.7 450.6h0M318.7 449.7h0M319.5 449.0h0M320.3 448.3h0M321.1 447.5h0M322.3 447.2h0M323.6 446.9h0M324.7 446.8h0M325.8 446.7h0M327.0 446.6h0M328.1 446.6h0M329.2 446.7h0M330.3 446.7h0M331.4 446.8h0M332.5 446.6h0M333.7 446.5h0M334.8 446.3h0M335.7 445.4h0M336.5 444.4h0M337.4 443.5h0M338.2 443.0h0M339.1 442.4h0M340.0 441.8h0M340.9 441.3h0M341.8 440.7h0M342.7 440.2h0M343.6 439.8h0M344.6 439.5h0M345.6 439.1h0M346.6 438.8h0M347.6 438.7h0M348.6 438.6h0" stroke="#8000ff" stroke-width="3.89" stroke-linecap="round" fill="none"/>
<path transform="scale(1,0.8333)" d="M349.6 438.6h0M350.6 438.5h0M351.5 438.2h0M352.4 438.0h0M353.3 437.7h0M354.1 437.4h0M355.0 437.2h0M355.9 436.9h0M356.8 436.6h0M357.7 436.4h0M358.6 436.1h0M359.5 435.9h0M360.5 435.7h0M361.5 435.5h0M362.4 435.3h0M363.4 435.1h0M364.3 434.8h0M365.3 434.6h0M366.3 434.4h0M367.2 434.2h0M368.2 434.0h0M369.2 433.8h0M370.0 433.5h0M370.9 433.3h0M371.8 433.0h0M372.7 432.8h0M373.6 432.5h0M374.5 432.3h0M375.4 432.0h0M376.2 431.8h0M377.1 431.5h0M378.0 431.2h0M378.9 431.0h0M379.8 430.7h0M380.7 430.6h0M381.7 430.5h0M382.7 430.4h0M383.6 430.3h0M384.6 430.1h0M385.6 430.0h0M386.5 429.9h0M387.5 429.8h0M388.4 429.6h0M389.4 429.5h0M390.4 429.4h0M391.3 429.4h0M392.3 429.4h0M393.3 429.4h0M394.2 429.4h0M395.2 429.4h0M396.2 429.4h0M397.1 429.4h0M398.1 429.4h0M399.0 429.4h0M400.0 429.4h0M401.0 429.4h0M401.9 429.2h0M402.9 429.1h0M403.9 428.9h0M404.8 428.8h0M405.8 428.6h0M406.8 428.5h0M407.7 428.3h0M408.7 428.2h0M409.7 428.0h0M410.6 427.9h0M411.6 427.7h0M412.5 427.5h0M413.3 427.2h0M414.2 427.0h0M415.1 426.7h0M416.0 426.5h0M416.9 426.2h0M417.8 426.0h0M418.7 425.7h0M419.5 425.4h0M420.4 425.2h0M421.3 424.9h0M422.2 424.7h0M423.1 424.3h0M424.0 423.9h0M424.8 423.5h0M425.7 423.0h0M426.6 422.6h0M427.5 422.2h0M428.4 421.8h0M429.3 421.4h0M430.1 421.0h0M431.1 420.8h0M432.0 420.5h0M433.0 420.3h0M433.9 420.0h0M434.9 419.8h0M435.8 419.6h0M436.8 419.3h0" stroke="#80ff00" stroke-width="3.89" stroke-linecap="round" fill="none"/>
<path transform="scale(1,0.8333)" d="M274.0 525.8h0M281.6 504.2h0M282.4 493.6h0" stroke="#00ffff" stroke-width="3.24" stroke-linecap="round" fill="none"/>
<rect x="406.4" y="396.2" width="31.9" height="34.3" fill="#fff" stroke="#777" stroke-width="0.9"/>
<circle cx="419.5" cy="401.7" r="1.5" fill="#ff0000"/>
<text x="432.2" y="404.2" class="lg">1</text>
<circle cx="419.5" cy="409.8" r="1.5" fill="#80ff00"/>
<text x="432.2" y="412.2" class="lg">2</text>
<circle cx="419.5" cy="417.8" r="1.5" fill="#00ffff"/>
<text x="432.2" y="420.3" class="lg">3</text>
<circle cx="419.5" cy="425.8" r="1.5" fill="#8000ff"/>
<text x="432.2" y="428.3" class="lg">4</text>
<rect x="502.6" y="330.7" width="178.9" height="110.3" fill="none" stroke="#9c9c9c" stroke-width="1.15"/>
<path d="M508.6 441.0v-1.6M508.6 330.7v1.6" stroke="#888" stroke-width="0.8"/>
<text transform="translate(508.60,451.20) scale(1.2,1)" font-size="7.0" font-weight="bold" text-anchor="middle">0</text>
<path d="M550.8 441.0v-1.6M550.8 330.7v1.6" stroke="#888" stroke-width="0.8"/>
<text transform="translate(550.80,451.20) scale(1.2,1)" font-size="7.0" font-weight="bold" text-anchor="middle">50</text>
<path d="M593.0 441.0v-1.6M593.0 330.7v1.6" stroke="#888" stroke-width="0.8"/>
<text transform="translate(593.00,451.20) scale(1.2,1)" font-size="7.0" font-weight="bold" text-anchor="middle">100</text>
<path d="M635.2 441.0v-1.6M635.2 330.7v1.6" stroke="#888" stroke-width="0.8"/>
<text transform="translate(635.20,451.20) scale(1.2,1)" font-size="7.0" font-weight="bold" text-anchor="middle">150</text>
<path d="M677.4 441.0v-1.6M677.4 330.7v1.6" stroke="#888" stroke-width="0.8"/>
<text transform="translate(677.40,451.20) scale(1.2,1)" font-size="7.0" font-weight="bold" text-anchor="middle">200</text>
<path d="M502.6 441.0h1.6M681.5 441.0h-1.6" stroke="#888" stroke-width="0.8"/>
<text transform="translate(498.80,443.40) scale(1.2,1)" font-size="7.0" font-weight="bold" text-anchor="end">0</text>
<path d="M502.6 418.9h1.6M681.5 418.9h-1.6" stroke="#888" stroke-width="0.8"/>
<text transform="translate(498.80,421.34) scale(1.2,1)" font-size="7.0" font-weight="bold" text-anchor="end">500</text>
<path d="M502.6 396.9h1.6M681.5 396.9h-1.6" stroke="#888" stroke-width="0.8"/>
<text transform="translate(498.80,399.28) scale(1.2,1)" font-size="7.0" font-weight="bold" text-anchor="end">1000</text>
<path d="M502.6 374.8h1.6M681.5 374.8h-1.6" stroke="#888" stroke-width="0.8"/>
<text transform="translate(498.80,377.22) scale(1.2,1)" font-size="7.0" font-weight="bold" text-anchor="end">1500</text>
<path d="M502.6 352.8h1.6M681.5 352.8h-1.6" stroke="#888" stroke-width="0.8"/>
<text transform="translate(498.80,355.16) scale(1.2,1)" font-size="7.0" font-weight="bold" text-anchor="end">2000</text>
<path d="M502.6 330.7h1.6M681.5 330.7h-1.6" stroke="#888" stroke-width="0.8"/>
<text transform="translate(498.80,333.10) scale(1.2,1)" font-size="7.0" font-weight="bold" text-anchor="end">2500</text>
<text x="592.0" y="461.3" class="lb" text-anchor="middle">V1</text>
<text transform="translate(477.8,385.9) rotate(-90)" x="0" y="0" class="lb" text-anchor="middle">V4</text>
<text transform="translate(592.05,328.90) scale(1.0,1)" font-size="9.4" font-weight="bold" text-anchor="middle">GMM</text>
<path transform="scale(1,0.8333)" d="M510.0 525.6h0M510.3 524.1h0M510.6 522.7h0M511.4 521.7h0M512.3 520.6h0M513.1 519.5h0M514.0 518.5h0M514.7 517.5h0M515.5 516.6h0M516.2 515.7h0M517.0 514.9h0M517.7 514.2h0M518.4 513.5h0M519.2 512.8h0M519.9 512.1h0M520.7 511.4h0M521.4 510.7h0M522.2 510.0h0M522.9 509.3h0" stroke="#00ffff" stroke-width="3.89" stroke-linecap="round" fill="none"/>
<path transform="scale(1,0.8333)" d="M523.7 508.5h0M524.4 507.7h0M525.2 506.9h0M525.9 506.3h0M526.7 505.7h0M527.4 505.0h0M528.2 504.4h0M528.9 503.8h0M529.7 503.2h0M530.8 502.4h0M531.9 501.5h0M532.8 500.4h0M533.6 499.4h0M534.5 498.9h0M535.5 498.4h0M536.4 498.0h0M537.3 497.5h0M538.1 497.0h0M538.9 496.6h0M539.8 496.1h0M540.6 495.7h0M541.5 495.3h0M542.3 494.8h0M543.1 494.4h0M543.7 493.4h0M544.3 492.3h0M545.4 491.8h0M546.5 491.4h0M547.6 490.9h0" stroke="#ff0000" stroke-width="3.89" stroke-linecap="round" fill="none"/>
<path transform="scale(1,0.8333)" d="M548.8 490.4h0M549.9 489.9h0M551.0 489.5h0M551.8 488.9h0M552.7 488.4h0M553.5 487.9h0M554.4 487.3h0M555.2 486.7h0M556.1 486.1h0M556.9 485.4h0M557.7 484.8h0M558.6 484.0h0M559.4 483.2h0M560.3 482.5h0M561.1 481.7h0M561.6 480.7h0M562.1 479.7h0M562.6 478.7h0M563.1 477.7h0M563.6 476.7h0M564.5 475.3h0M565.3 474.4h0M566.2 473.5h0M567.0 472.7h0M567.8 471.8h0M568.7 471.1h0M569.5 470.4h0M570.4 469.7h0M571.2 468.9h0M572.1 468.2h0M572.9 467.5h0M573.7 466.8h0M574.6 466.1h0M575.5 465.5h0M576.4 465.0h0M577.3 464.4h0M578.2 463.8h0M579.1 463.3h0M580.1 462.7h0M581.0 462.2h0M582.0 461.7h0M583.0 461.2h0M584.0 460.6h0M585.0 460.1h0" stroke="#8000ff" stroke-width="3.89" stroke-linecap="round" fill="none"/>
<path transform="scale(1,0.8333)" d="M586.0 459.5h0M587.1 459.0h0M588.1 458.0h0M589.1 457.6h0M590.0 457.3h0M590.9 457.0h0M591.9 456.6h0M592.8 456.3h0M593.7 456.0h0M594.7 455.6h0M595.6 455.3h0M596.5 455.0h0M597.4 454.6h0M598.2 454.3h0M599.1 453.9h0M600.0 453.6h0M600.9 453.3h0M601.8 452.9h0M602.7 452.6h0M603.6 452.3h0M604.4 451.8h0M605.2 451.4h0M606.1 451.0h0M606.9 450.6h0M607.7 450.2h0M608.6 449.7h0M609.4 449.3h0M610.2 448.9h0M611.1 448.0h0M612.0 447.1h0M612.9 446.2h0M613.9 446.0h0M614.8 445.7h0M615.8 445.5h0M616.7 445.2h0M617.7 445.0h0M618.6 444.8h0M619.6 444.5h0M620.5 444.1h0M621.4 443.7h0M622.2 443.4h0M623.1 443.0h0M624.0 442.6h0M624.9 442.2h0M625.8 441.8h0M626.7 441.4h0M627.6 441.1h0M628.5 440.7h0M629.4 440.4h0M630.2 440.0h0M631.1 439.6h0M632.0 439.3h0M632.9 438.9h0M633.8 438.5h0M634.7 438.2h0M635.6 437.8h0M636.5 437.4h0M637.4 437.1h0M638.2 436.7h0M639.1 436.3h0M640.0 435.9h0M640.9 435.6h0M641.8 435.2h0M642.7 434.8h0M643.6 434.4h0M644.5 434.0h0M645.4 433.5h0M646.2 433.1h0M647.1 432.6h0M648.0 432.2h0M648.9 431.8h0M649.8 431.3h0M650.7 430.9h0M651.6 430.4h0M652.5 430.0h0M653.4 429.7h0M654.2 429.3h0M655.1 428.9h0M656.0 428.5h0M656.9 428.2h0M657.8 427.8h0M658.7 427.4h0M659.6 427.0h0M660.5 426.8h0M661.5 426.6h0M662.4 426.3h0M663.4 426.1h0M664.3 425.8h0M665.3 425.6h0M666.2 425.4h0M667.1 424.7h0M668.0 424.0h0M668.9 423.3h0M669.6 422.5h0M670.3 421.7h0M671.0 420.9h0M671.7 420.1h0M672.4 419.3h0M673.4 418.6h0" stroke="#80ff00" stroke-width="3.89" stroke-linecap="round" fill="none"/>
<rect x="643.2" y="396.2" width="31.9" height="34.3" fill="#fff" stroke="#777" stroke-width="0.9"/>
<circle cx="656.3" cy="401.7" r="1.5" fill="#ff0000"/>
<text x="669.0" y="404.2" class="lg">1</text>
<circle cx="656.3" cy="409.8" r="1.5" fill="#80ff00"/>
<text x="669.0" y="412.2" class="lg">2</text>
<circle cx="656.3" cy="417.8" r="1.5" fill="#00ffff"/>
<text x="669.0" y="420.3" class="lg">3</text>
<circle cx="656.3" cy="425.8" r="1.5" fill="#8000ff"/>
<text x="669.0" y="428.3" class="lg">4</text>
<rect x="29.3" y="484.3" width="179.2" height="110.1" fill="none" stroke="#9c9c9c" stroke-width="1.15"/>
<path d="M30.0 594.4v-1.6M30.0 484.3v1.6" stroke="#888" stroke-width="0.8"/>
<text transform="translate(30.00,604.60) scale(1.2,1)" font-size="7.0" font-weight="bold" text-anchor="middle">0</text>
<path d="M66.0 594.4v-1.6M66.0 484.3v1.6" stroke="#888" stroke-width="0.8"/>
<text transform="translate(65.97,604.60) scale(1.2,1)" font-size="7.0" font-weight="bold" text-anchor="middle">50</text>
<path d="M102.0 594.4v-1.6M102.0 484.3v1.6" stroke="#888" stroke-width="0.8"/>
<text transform="translate(101.95,604.60) scale(1.2,1)" font-size="7.0" font-weight="bold" text-anchor="middle">100</text>
<path d="M137.9 594.4v-1.6M137.9 484.3v1.6" stroke="#888" stroke-width="0.8"/>
<text transform="translate(137.93,604.60) scale(1.2,1)" font-size="7.0" font-weight="bold" text-anchor="middle">150</text>
<path d="M173.9 594.4v-1.6M173.9 484.3v1.6" stroke="#888" stroke-width="0.8"/>
<text transform="translate(173.90,604.60) scale(1.2,1)" font-size="7.0" font-weight="bold" text-anchor="middle">200</text>
<path d="M29.3 594.4h1.6M208.5 594.4h-1.6" stroke="#888" stroke-width="0.8"/>
<text transform="translate(25.50,596.80) scale(1.2,1)" font-size="7.0" font-weight="bold" text-anchor="end">0</text>
<path d="M29.3 572.4h1.6M208.5 572.4h-1.6" stroke="#888" stroke-width="0.8"/>
<text transform="translate(25.50,574.78) scale(1.2,1)" font-size="7.0" font-weight="bold" text-anchor="end">50</text>
<path d="M29.3 550.4h1.6M208.5 550.4h-1.6" stroke="#888" stroke-width="0.8"/>
<text transform="translate(25.50,552.76) scale(1.2,1)" font-size="7.0" font-weight="bold" text-anchor="end">100</text>
<path d="M29.3 528.3h1.6M208.5 528.3h-1.6" stroke="#888" stroke-width="0.8"/>
<text transform="translate(25.50,530.74) scale(1.2,1)" font-size="7.0" font-weight="bold" text-anchor="end">150</text>
<path d="M29.3 506.3h1.6M208.5 506.3h-1.6" stroke="#888" stroke-width="0.8"/>
<text transform="translate(25.50,508.72) scale(1.2,1)" font-size="7.0" font-weight="bold" text-anchor="end">200</text>
<path d="M29.3 484.3h1.6M208.5 484.3h-1.6" stroke="#888" stroke-width="0.8"/>
<text transform="translate(25.50,486.70) scale(1.2,1)" font-size="7.0" font-weight="bold" text-anchor="end">250</text>
<text x="118.9" y="614.7" class="lb" text-anchor="middle">V2</text>
<text transform="translate(8.8,539.4) rotate(-90)" x="0" y="0" class="lb" text-anchor="middle">V3</text>
<text transform="translate(118.90,482.50) scale(1.0,1)" font-size="9.4" font-weight="bold" text-anchor="middle">GMM</text>
<path transform="scale(1,0.8333)" d="M49.2 700.0h0M49.7 699.0h0M50.3 698.1h0M51.5 696.5h0M64.3 671.2h0M65.1 670.5h0M70.8 669.5h0M71.6 669.5h0" stroke="#00ffff" stroke-width="3.89" stroke-linecap="round" fill="none"/>
<path transform="scale(1,0.8333)" d="M82.6 667.9h0M83.7 667.0h0M84.8 666.0h0M85.6 665.4h0M86.4 664.7h0M87.2 664.1h0M88.1 663.5h0M90.2 656.7h0M91.8 656.3h0M96.3 653.9h0M97.1 652.9h0M97.9 651.8h0M98.5 650.9h0M99.0 650.0h0M99.5 649.1h0M100.7 648.1h0M101.8 647.8h0M102.8 647.5h0M112.7 647.1h0M113.9 646.7h0M115.1 646.2h0M116.2 646.2h0M117.3 646.2h0M118.4 646.2h0M119.7 645.9h0M120.9 645.6h0M122.0 645.3h0M123.1 644.9h0M124.2 644.6h0M125.1 644.5h0M126.0 644.4h0M127.0 644.2h0M132.4 643.6h0M133.2 643.2h0M134.0 642.7h0M135.7 642.1h0M134.6 643.0h0M135.7 642.5h0M136.8 642.0h0M137.8 641.5h0M138.7 641.1h0M139.6 640.6h0M140.5 640.0h0M141.3 639.3h0" stroke="#ff0000" stroke-width="3.89" stroke-linecap="round" fill="none"/>
<path transform="scale(1,0.8333)" d="M142.2 638.7h0M143.0 638.0h0M144.1 637.6h0M145.2 637.3h0M146.4 636.9h0M147.2 636.5h0M148.0 636.0h0M148.9 635.5h0M149.7 635.1h0M150.5 634.7h0M151.4 634.2h0M152.2 633.8h0M153.1 633.4h0M154.2 632.9h0M155.3 632.5h0M156.4 632.0h0M157.5 631.9h0M158.7 631.8h0M159.8 631.6h0M160.9 631.5h0M162.0 631.5h0M163.1 631.4h0M164.3 631.3h0M165.4 631.2h0M166.5 631.1h0M167.6 631.6h0M168.5 631.6h0M169.5 631.6h0M170.4 631.6h0M171.3 631.6h0M172.3 631.6h0M173.2 631.6h0M173.2 630.2h0M173.2 628.8h0M173.2 627.4h0M173.8 626.5h0M174.3 625.6h0M174.9 624.7h0M176.0 624.3h0M177.1 623.9h0" stroke="#8000ff" stroke-width="3.89" stroke-linecap="round" fill="none"/>
<path transform="scale(1,0.8333)" d="M178.2 623.4h0M178.8 622.8h0M179.4 621.8h0M180.3 621.0h0M181.2 620.2h0M182.2 619.5h0M183.0 618.9h0M183.8 618.3h0M184.7 617.7h0M185.5 617.1h0M185.8 615.9h0M186.1 614.8h0M187.0 614.4h0M187.9 613.9h0M188.9 613.5h0M189.7 612.5h0M190.6 611.5h0M196.7 611.5h0M197.3 610.5h0M197.8 609.5h0M198.0 608.4h0M198.2 607.3h0M198.4 606.2h0M199.5 604.6h0" stroke="#80ff00" stroke-width="3.89" stroke-linecap="round" fill="none"/>
<path transform="scale(1,0.8333)" d="M36.7 709.7h0M53.6 693.8h0M57.7 692.2h0M61.3 687.9h0M62.6 677.6h0" stroke="#00ffff" stroke-width="3.24" stroke-linecap="round" fill="none"/>
<path transform="scale(1,0.8333)" d="M107.8 647.9h0" stroke="#ff0000" stroke-width="3.24" stroke-linecap="round" fill="none"/>
<rect x="169.7" y="550.1" width="31.9" height="34.3" fill="#fff" stroke="#777" stroke-width="0.9"/>
<circle cx="182.8" cy="555.6" r="1.5" fill="#ff0000"/>
<text x="195.5" y="558.1" class="lg">1</text>
<circle cx="182.8" cy="563.6" r="1.5" fill="#80ff00"/>
<text x="195.5" y="566.1" class="lg">2</text>
<circle cx="182.8" cy="571.7" r="1.5" fill="#00ffff"/>
<text x="195.5" y="574.2" class="lg">3</text>
<circle cx="182.8" cy="579.8" r="1.5" fill="#8000ff"/>
<text x="195.5" y="582.2" class="lg">4</text>
<rect x="265.6" y="484.3" width="179.5" height="110.1" fill="none" stroke="#9c9c9c" stroke-width="1.15"/>
<path d="M266.3 594.4v-1.6M266.3 484.3v1.6" stroke="#888" stroke-width="0.8"/>
<text transform="translate(266.30,604.60) scale(1.2,1)" font-size="7.0" font-weight="bold" text-anchor="middle">0</text>
<path d="M302.3 594.4v-1.6M302.3 484.3v1.6" stroke="#888" stroke-width="0.8"/>
<text transform="translate(302.32,604.60) scale(1.2,1)" font-size="7.0" font-weight="bold" text-anchor="middle">50</text>
<path d="M338.4 594.4v-1.6M338.4 484.3v1.6" stroke="#888" stroke-width="0.8"/>
<text transform="translate(338.35,604.60) scale(1.2,1)" font-size="7.0" font-weight="bold" text-anchor="middle">100</text>
<path d="M374.4 594.4v-1.6M374.4 484.3v1.6" stroke="#888" stroke-width="0.8"/>
<text transform="translate(374.38,604.60) scale(1.2,1)" font-size="7.0" font-weight="bold" text-anchor="middle">150</text>
<path d="M410.4 594.4v-1.6M410.4 484.3v1.6" stroke="#888" stroke-width="0.8"/>
<text transform="translate(410.40,604.60) scale(1.2,1)" font-size="7.0" font-weight="bold" text-anchor="middle">200</text>
<path d="M265.6 594.4h1.6M445.1 594.4h-1.6" stroke="#888" stroke-width="0.8"/>
<text transform="translate(261.80,596.80) scale(1.2,1)" font-size="7.0" font-weight="bold" text-anchor="end">0</text>
<path d="M265.6 572.4h1.6M445.1 572.4h-1.6" stroke="#888" stroke-width="0.8"/>
<text transform="translate(261.80,574.78) scale(1.2,1)" font-size="7.0" font-weight="bold" text-anchor="end">500</text>
<path d="M265.6 550.4h1.6M445.1 550.4h-1.6" stroke="#888" stroke-width="0.8"/>
<text transform="translate(261.80,552.76) scale(1.2,1)" font-size="7.0" font-weight="bold" text-anchor="end">1000</text>
<path d="M265.6 528.3h1.6M445.1 528.3h-1.6" stroke="#888" stroke-width="0.8"/>
<text transform="translate(261.80,530.74) scale(1.2,1)" font-size="7.0" font-weight="bold" text-anchor="end">1500</text>
<path d="M265.6 506.3h1.6M445.1 506.3h-1.6" stroke="#888" stroke-width="0.8"/>
<text transform="translate(261.80,508.72) scale(1.2,1)" font-size="7.0" font-weight="bold" text-anchor="end">2000</text>
<path d="M265.6 484.3h1.6M445.1 484.3h-1.6" stroke="#888" stroke-width="0.8"/>
<text transform="translate(261.80,486.70) scale(1.2,1)" font-size="7.0" font-weight="bold" text-anchor="end">2500</text>
<text x="355.4" y="614.7" class="lb" text-anchor="middle">V2</text>
<text transform="translate(240.8,539.4) rotate(-90)" x="0" y="0" class="lb" text-anchor="middle">V4</text>
<text transform="translate(355.35,482.50) scale(1.0,1)" font-size="9.4" font-weight="bold" text-anchor="middle">GMM</text>
<path transform="scale(1,0.8333)" d="M285.5 706.4h0M286.1 705.3h0M286.6 704.2h0M287.8 702.7h0M288.6 702.0h0M289.4 701.3h0M290.2 700.6h0M294.1 699.4h0M295.0 698.9h0M295.9 698.5h0M296.8 698.3h0M297.7 698.1h0M298.6 697.9h0M299.5 697.4h0M300.4 696.9h0M301.3 696.4h0" stroke="#00ffff" stroke-width="3.89" stroke-linecap="round" fill="none"/>
<path transform="scale(1,0.8333)" d="M319.2 693.8h0M320.1 693.4h0M321.0 693.0h0M321.9 692.6h0M322.8 692.2h0M323.7 691.9h0M324.6 691.5h0M325.5 691.2h0M326.4 690.8h0M327.3 690.5h0M333.2 690.0h0M334.5 688.8h0M335.4 688.0h0M336.3 687.3h0M337.4 686.7h0M338.6 686.2h0M349.3 684.1h0M350.4 683.9h0M351.4 683.7h0M352.4 683.5h0M353.3 683.3h0M354.2 683.2h0M355.1 683.0h0M356.0 682.8h0M356.9 682.6h0M357.8 682.4h0M358.7 682.3h0M359.6 682.1h0M360.5 682.0h0M361.4 681.8h0M362.3 681.7h0M363.1 681.6h0M369.4 679.9h0M370.3 679.6h0M371.2 679.4h0M372.3 679.1h0M373.4 678.8h0M373.8 677.4h0M374.2 675.9h0M375.3 675.6h0M376.4 675.3h0M377.5 675.0h0" stroke="#ff0000" stroke-width="3.89" stroke-linecap="round" fill="none"/>
<path transform="scale(1,0.8333)" d="M378.7 674.6h0M379.8 674.3h0M380.9 673.9h0M382.0 673.6h0M383.1 673.2h0M384.3 672.9h0M385.1 672.5h0M385.9 672.1h0M386.8 671.7h0M387.6 671.3h0M388.5 670.9h0M389.3 670.5h0M390.1 670.1h0M391.0 669.7h0M391.8 669.3h0M392.7 668.8h0M393.5 668.4h0M394.3 668.0h0M395.2 667.5h0M396.0 667.0h0M396.9 666.5h0M397.7 666.0h0M398.5 665.2h0M399.4 664.3h0M400.2 663.5h0M401.1 662.7h0M401.9 661.8h0M402.7 660.9h0M403.5 660.0h0M404.4 659.4h0M405.2 658.5h0M405.9 657.6h0M406.7 656.7h0M407.6 656.1h0M408.5 655.4h0M409.5 654.7h0M409.5 653.6h0M409.5 652.5h0M409.5 651.4h0M410.0 650.3h0M410.6 649.2h0M411.1 648.1h0M411.9 647.2h0M412.6 646.3h0M413.4 645.5h0" stroke="#8000ff" stroke-width="3.89" stroke-linecap="round" fill="none"/>
<path transform="scale(1,0.8333)" d="M414.4 644.5h0M415.4 643.5h0M416.2 642.1h0M417.1 641.5h0M418.1 640.8h0M419.0 640.2h0M419.7 639.3h0M420.5 638.4h0M421.2 637.5h0M421.8 636.4h0M422.4 635.3h0M422.9 634.2h0M422.9 632.9h0M422.9 631.5h0M422.9 630.2h0M422.6 628.9h0M422.4 627.6h0M422.9 626.7h0M423.5 625.8h0M424.0 624.9h0M424.6 623.8h0M425.2 622.7h0M425.7 621.6h0M426.1 620.5h0M426.5 619.4h0M426.8 618.3h0M427.1 617.0h0M433.0 616.3h0M433.6 615.3h0M434.1 614.3h0M434.5 613.0h0M434.9 611.7h0M435.2 610.4h0M435.2 609.0h0M435.2 607.7h0M435.5 606.4h0M435.8 605.1h0M436.7 603.7h0" stroke="#80ff00" stroke-width="3.89" stroke-linecap="round" fill="none"/>
<path transform="scale(1,0.8333)" d="M273.5 709.5h0M307.6 694.7h0" stroke="#00ffff" stroke-width="3.24" stroke-linecap="round" fill="none"/>
<path transform="scale(1,0.8333)" d="M344.3 685.6h0" stroke="#ff0000" stroke-width="3.24" stroke-linecap="round" fill="none"/>
<rect x="361.4" y="494.9" width="31.9" height="34.3" fill="#fff" stroke="#777" stroke-width="0.9"/>
<circle cx="374.5" cy="500.4" r="1.5" fill="#ff0000"/>
<text x="387.2" y="502.9" class="lg">1</text>
<circle cx="374.5" cy="508.4" r="1.5" fill="#80ff00"/>
<text x="387.2" y="510.9" class="lg">2</text>
<circle cx="374.5" cy="516.5" r="1.5" fill="#00ffff"/>
<text x="387.2" y="519.0" class="lg">3</text>
<circle cx="374.5" cy="524.5" r="1.5" fill="#8000ff"/>
<text x="387.2" y="527.0" class="lg">4</text>
<rect x="502.6" y="484.3" width="178.4" height="110.1" fill="none" stroke="#9c9c9c" stroke-width="1.15"/>
<path d="M505.3 594.4v-1.6M505.3 484.3v1.6" stroke="#888" stroke-width="0.8"/>
<text transform="translate(505.30,604.60) scale(1.2,1)" font-size="7.0" font-weight="bold" text-anchor="middle">0</text>
<path d="M545.6 594.4v-1.6M545.6 484.3v1.6" stroke="#888" stroke-width="0.8"/>
<text transform="translate(545.65,604.60) scale(1.2,1)" font-size="7.0" font-weight="bold" text-anchor="middle">50</text>
<path d="M586.0 594.4v-1.6M586.0 484.3v1.6" stroke="#888" stroke-width="0.8"/>
<text transform="translate(586.00,604.60) scale(1.2,1)" font-size="7.0" font-weight="bold" text-anchor="middle">100</text>
<path d="M626.4 594.4v-1.6M626.4 484.3v1.6" stroke="#888" stroke-width="0.8"/>
<text transform="translate(626.35,604.60) scale(1.2,1)" font-size="7.0" font-weight="bold" text-anchor="middle">150</text>
<path d="M666.7 594.4v-1.6M666.7 484.3v1.6" stroke="#888" stroke-width="0.8"/>
<text transform="translate(666.70,604.60) scale(1.2,1)" font-size="7.0" font-weight="bold" text-anchor="middle">200</text>
<path d="M502.6 594.4h1.6M681.0 594.4h-1.6" stroke="#888" stroke-width="0.8"/>
<text transform="translate(498.80,596.80) scale(1.2,1)" font-size="7.0" font-weight="bold" text-anchor="end">0</text>
<path d="M502.6 572.4h1.6M681.0 572.4h-1.6" stroke="#888" stroke-width="0.8"/>
<text transform="translate(498.80,574.78) scale(1.2,1)" font-size="7.0" font-weight="bold" text-anchor="end">500</text>
<path d="M502.6 550.4h1.6M681.0 550.4h-1.6" stroke="#888" stroke-width="0.8"/>
<text transform="translate(498.80,552.76) scale(1.2,1)" font-size="7.0" font-weight="bold" text-anchor="end">1000</text>
<path d="M502.6 528.3h1.6M681.0 528.3h-1.6" stroke="#888" stroke-width="0.8"/>
<text transform="translate(498.80,530.74) scale(1.2,1)" font-size="7.0" font-weight="bold" text-anchor="end">1500</text>
<path d="M502.6 506.3h1.6M681.0 506.3h-1.6" stroke="#888" stroke-width="0.8"/>
<text transform="translate(498.80,508.72) scale(1.2,1)" font-size="7.0" font-weight="bold" text-anchor="end">2000</text>
<path d="M502.6 484.3h1.6M681.0 484.3h-1.6" stroke="#888" stroke-width="0.8"/>
<text transform="translate(498.80,486.70) scale(1.2,1)" font-size="7.0" font-weight="bold" text-anchor="end">2500</text>
<text x="591.8" y="614.7" class="lb" text-anchor="middle">V3</text>
<text transform="translate(477.8,539.4) rotate(-90)" x="0" y="0" class="lb" text-anchor="middle">V4</text>
<text transform="translate(591.80,482.50) scale(1.0,1)" font-size="9.4" font-weight="bold" text-anchor="middle">GMM</text>
<path transform="scale(1,0.8333)" d="M525.8 706.4h0M526.8 705.8h0M527.8 705.3h0M528.5 704.2h0M529.2 703.2h0M530.4 702.1h0M534.8 700.6h0M535.9 700.3h0M536.9 699.9h0M537.9 699.6h0M570.1 697.2h0M570.8 696.5h0M571.5 695.8h0M572.5 695.0h0" stroke="#00ffff" stroke-width="3.89" stroke-linecap="round" fill="none"/>
<path transform="scale(1,0.8333)" d="M573.5 694.3h0M574.3 693.9h0M575.2 693.6h0M576.1 693.2h0M577.4 692.9h0M578.7 692.6h0M592.2 690.5h0M593.2 690.2h0M594.2 690.0h0M597.2 689.4h0M598.2 689.0h0M599.2 688.7h0M600.2 688.3h0M601.2 688.0h0M602.2 687.6h0M603.2 687.3h0M604.2 686.7h0M605.3 686.2h0M606.3 685.2h0M607.3 684.1h0M608.3 683.4h0M609.3 682.7h0M610.3 682.0h0M611.3 681.4h0M612.3 680.9h0M613.3 680.4h0M614.3 679.9h0M613.6 680.1h0M613.8 678.9h0M614.0 677.8h0M614.2 676.6h0M615.1 675.9h0M616.0 675.2h0" stroke="#ff0000" stroke-width="3.89" stroke-linecap="round" fill="none"/>
<path transform="scale(1,0.8333)" d="M616.9 674.5h0M617.9 674.3h0M618.9 674.1h0M619.9 673.9h0M620.9 673.8h0M621.7 673.2h0M622.5 672.6h0M623.4 672.1h0M624.2 671.5h0M625.0 670.9h0M626.0 670.4h0M627.0 669.9h0M628.0 669.3h0M629.0 668.8h0M629.5 667.9h0M630.1 666.9h0M630.6 666.0h0M630.7 664.6h0M630.9 663.2h0M631.0 661.8h0M630.6 660.3h0M630.5 659.2h0M630.4 658.0h0M630.3 656.8h0M630.7 655.4h0M631.0 654.0h0M631.8 653.3h0M632.7 652.6h0M633.5 651.9h0M634.3 651.2h0M635.4 650.6h0M636.4 650.1h0M637.4 649.6h0M638.4 649.0h0M639.3 648.6h0M640.2 648.1h0M641.1 647.6h0M641.6 646.7h0" stroke="#8000ff" stroke-width="3.89" stroke-linecap="round" fill="none"/>
<path transform="scale(1,0.8333)" d="M642.1 645.7h0M642.7 644.8h0M643.5 644.1h0M644.4 643.4h0M645.1 642.5h0M645.7 641.7h0M646.4 640.8h0M647.1 640.0h0M647.8 639.1h0M648.6 638.3h0M649.4 637.4h0M650.2 636.6h0M651.0 635.8h0M651.8 634.9h0M652.6 634.2h0M653.5 633.5h0M654.3 632.8h0M655.1 632.1h0M655.6 630.9h0M656.0 629.7h0M656.5 628.5h0M656.7 627.4h0M656.9 626.2h0M657.1 625.0h0M657.4 623.8h0M657.6 622.7h0M657.8 621.5h0M658.5 620.3h0M659.2 619.1h0M659.8 617.9h0M660.7 617.0h0M661.6 616.1h0M662.5 615.1h0M663.4 614.4h0M664.3 613.7h0M665.2 613.0h0M666.3 612.5h0M667.4 612.1h0M668.5 611.6h0M669.7 610.9h0M670.8 610.2h0M671.0 608.8h0M671.2 607.4h0M671.6 605.9h0M671.9 604.5h0M672.6 603.4h0" stroke="#80ff00" stroke-width="3.89" stroke-linecap="round" fill="none"/>
<path transform="scale(1,0.8333)" d="M511.1 709.5h0M544.3 698.5h0M560.4 698.3h0" stroke="#00ffff" stroke-width="3.24" stroke-linecap="round" fill="none"/>
<path transform="scale(1,0.8333)" d="M582.5 692.2h0" stroke="#ff0000" stroke-width="3.24" stroke-linecap="round" fill="none"/>
<rect x="598.3" y="494.9" width="31.9" height="34.3" fill="#fff" stroke="#777" stroke-width="0.9"/>
<circle cx="611.4" cy="500.4" r="1.5" fill="#ff0000"/>
<text x="624.1" y="502.9" class="lg">1</text>
<circle cx="611.4" cy="508.4" r="1.5" fill="#80ff00"/>
<text x="624.1" y="510.9" class="lg">2</text>
<circle cx="611.4" cy="516.5" r="1.5" fill="#00ffff"/>
<text x="624.1" y="519.0" class="lg">3</text>
<circle cx="611.4" cy="524.5" r="1.5" fill="#8000ff"/>
<text x="624.1" y="527.0" class="lg">4</text>
<rect x="30.6" y="658.3" width="178.2" height="125.7" fill="none" stroke="#9c9c9c" stroke-width="1.15"/>
<path d="M36.6 784.0v-1.6M36.6 658.3v1.6" stroke="#888" stroke-width="0.8"/>
<text transform="translate(36.60,795.00) scale(1.03,1)" font-size="8.4" font-weight="bold" text-anchor="middle">0</text>
<path d="M78.6 784.0v-1.6M78.6 658.3v1.6" stroke="#888" stroke-width="0.8"/>
<text transform="translate(78.62,795.00) scale(1.03,1)" font-size="8.4" font-weight="bold" text-anchor="middle">50</text>
<path d="M120.7 784.0v-1.6M120.7 658.3v1.6" stroke="#888" stroke-width="0.8"/>
<text transform="translate(120.65,795.00) scale(1.03,1)" font-size="8.4" font-weight="bold" text-anchor="middle">100</text>
<path d="M162.7 784.0v-1.6M162.7 658.3v1.6" stroke="#888" stroke-width="0.8"/>
<text transform="translate(162.67,795.00) scale(1.03,1)" font-size="8.4" font-weight="bold" text-anchor="middle">150</text>
<path d="M204.7 784.0v-1.6M204.7 658.3v1.6" stroke="#888" stroke-width="0.8"/>
<text transform="translate(204.70,795.00) scale(1.03,1)" font-size="8.4" font-weight="bold" text-anchor="middle">200</text>
<path d="M30.6 784.0h1.6M208.8 784.0h-1.6" stroke="#888" stroke-width="0.8"/>
<text transform="translate(27.10,787.40) scale(1.03,1)" font-size="8.4" font-weight="bold" text-anchor="end">0</text>
<path d="M30.6 758.9h1.6M208.8 758.9h-1.6" stroke="#888" stroke-width="0.8"/>
<text transform="translate(27.10,762.26) scale(1.03,1)" font-size="8.4" font-weight="bold" text-anchor="end">50</text>
<path d="M30.6 733.7h1.6M208.8 733.7h-1.6" stroke="#888" stroke-width="0.8"/>
<text transform="translate(27.10,737.12) scale(1.03,1)" font-size="8.4" font-weight="bold" text-anchor="end">100</text>
<path d="M30.6 708.6h1.6M208.8 708.6h-1.6" stroke="#888" stroke-width="0.8"/>
<text transform="translate(27.10,711.98) scale(1.03,1)" font-size="8.4" font-weight="bold" text-anchor="end">150</text>
<path d="M30.6 683.4h1.6M208.8 683.4h-1.6" stroke="#888" stroke-width="0.8"/>
<text transform="translate(27.10,686.84) scale(1.03,1)" font-size="8.4" font-weight="bold" text-anchor="end">200</text>
<path d="M30.6 658.3h1.6M208.8 658.3h-1.6" stroke="#888" stroke-width="0.8"/>
<text transform="translate(27.10,661.70) scale(1.03,1)" font-size="8.4" font-weight="bold" text-anchor="end">250</text>
<text x="119.7" y="806.6" class="lb" text-anchor="middle">V1</text>
<text transform="translate(10.1,721.1) rotate(-90)" x="0" y="0" class="lb" text-anchor="middle">V2</text>
<text transform="translate(119.70,655.90) scale(1.0,1)" font-size="9.3" font-weight="bold" text-anchor="middle">K-Means</text>
<path transform="scale(1,0.8333)" d="M38.8 924.9h0M39.7 924.3h0M40.5 923.7h0M41.6 923.3h0M42.6 922.9h0M43.6 921.3h0M44.0 919.8h0M44.4 918.3h0M44.7 917.2h0M45.1 916.2h0M45.4 915.2h0M46.1 913.9h0M46.8 912.6h0M47.7 912.1h0M48.6 911.6h0M49.6 911.2h0M50.3 906.2h0M51.0 905.8h0M51.4 896.7h0M51.9 895.4h0M52.4 894.1h0M52.8 893.1h0M53.3 892.0h0M53.8 891.0h0M54.5 890.0h0M55.2 889.0h0M55.3 887.9h0M55.5 886.8h0M55.7 885.7h0M55.9 884.6h0M56.9 883.8h0M57.9 883.0h0" stroke="#ff0000" stroke-width="3.89" stroke-linecap="round" fill="none"/>
<path transform="scale(1,0.8333)" d="M58.5 882.2h0M59.2 881.4h0M59.8 880.5h0M60.3 878.9h0M60.5 877.4h0M60.7 875.9h0M61.1 874.4h0M61.4 872.9h0M61.9 871.9h0M62.4 870.9h0M62.8 869.9h0M63.3 868.9h0M63.8 867.8h0M64.2 866.8h0M64.6 865.8h0M64.9 864.8h0M65.3 863.8h0M65.6 862.8h0M65.9 861.6h0M66.3 860.4h0M66.6 859.2h0M66.7 858.1h0M66.8 857.0h0M66.9 855.8h0M67.0 854.7h0M67.8 854.2h0M68.7 853.7h0M70.1 852.7h0M70.5 851.2h0M70.9 849.7h0M71.9 850.3h0M72.8 849.6h0M73.6 849.0h0M74.5 848.3h0M75.4 847.7h0M76.1 846.8h0M76.8 846.0h0M77.5 845.2h0M78.2 844.3h0M78.9 843.5h0M79.6 842.6h0M80.3 841.7h0M81.0 840.8h0M81.6 839.8h0M82.3 838.9h0M83.0 837.9h0M83.7 837.0h0M84.4 836.1h0M85.1 835.2h0M85.8 834.3h0M86.5 833.4h0M87.2 832.5h0M87.9 831.5h0M88.5 830.5h0M89.1 829.5h0M89.7 828.5h0M90.2 827.5h0M90.8 826.5h0M91.4 825.5h0M92.1 825.5h0M93.0 824.6h0M94.0 823.7h0M94.9 822.9h0" stroke="#00ffff" stroke-width="3.89" stroke-linecap="round" fill="none"/>
<path transform="scale(1,0.8333)" d="M95.8 822.3h0M96.8 821.7h0M97.7 821.1h0M98.7 820.9h0M99.8 820.8h0M100.8 820.6h0M101.9 820.5h0M102.8 820.2h0M103.7 819.9h0M104.7 819.6h0M105.5 819.2h0M106.3 818.8h0M107.2 818.3h0M108.0 817.9h0M108.8 817.4h0M109.9 817.2h0M110.9 816.9h0M112.0 816.7h0M113.0 816.4h0M114.3 816.2h0M115.5 816.0h0M116.4 815.7h0M117.3 815.4h0M118.2 815.1h0M119.1 814.7h0M120.0 814.4h0M120.8 813.6h0M121.7 812.7h0M122.6 812.5h0M123.5 812.4h0M124.5 812.2h0M125.4 812.0h0M126.3 811.8h0M127.3 811.6h0M128.2 811.4h0M129.1 811.2h0M130.0 811.0h0M131.0 810.8h0M131.9 810.6h0M132.8 810.5h0M133.7 810.4h0M134.7 810.2h0M135.6 810.1h0M136.5 810.0h0M137.4 809.8h0M138.3 809.7h0M139.2 809.6h0M140.1 809.5h0" stroke="#8000ff" stroke-width="3.89" stroke-linecap="round" fill="none"/>
<path transform="scale(1,0.8333)" d="M141.1 809.5h0M142.0 809.4h0M142.9 809.4h0M143.8 809.3h0M144.7 809.2h0M145.6 809.2h0M146.6 809.1h0M147.5 809.1h0M148.4 809.0h0M149.3 809.0h0M150.2 808.9h0M151.1 808.9h0M152.0 808.8h0M153.0 808.8h0M153.9 808.7h0M154.6 808.1h0M155.3 807.4h0M156.3 807.3h0M157.2 807.2h0M158.1 807.1h0M159.1 807.0h0M160.0 806.9h0M160.9 806.8h0M161.9 806.6h0M162.8 806.5h0M163.7 806.4h0M164.7 806.3h0M165.6 806.2h0M166.5 806.1h0M167.5 806.0h0M168.5 806.0h0M169.4 805.9h0M170.4 805.9h0M171.3 805.8h0M172.3 805.7h0M173.2 805.7h0M174.2 805.6h0M175.2 805.5h0M176.1 805.5h0M177.1 805.4h0M178.0 805.3h0M176.6 800.2h0M177.5 800.1h0M178.4 800.0h0M179.4 799.9h0M180.3 799.8h0M181.3 799.6h0M182.2 799.5h0M183.2 799.4h0M184.1 799.4h0M185.1 799.3h0M186.1 799.3h0M187.1 799.2h0M188.0 799.2h0M189.0 799.1h0M190.0 799.1h0M191.0 799.0h0M191.9 799.0h0M192.9 798.9h0M193.9 798.8h0M194.9 798.8h0M195.8 798.7h0M196.8 798.6h0M197.8 798.6h0M198.9 798.4h0M199.9 798.3h0M201.0 798.1h0" stroke="#80ff00" stroke-width="3.89" stroke-linecap="round" fill="none"/>
<path transform="scale(1,0.8333)" d="M38.1 935.0h0" stroke="#ff0000" stroke-width="3.24" stroke-linecap="round" fill="none"/>
<circle cx="48.9" cy="756.5" r="2.35" fill="none" stroke="#000" stroke-width="1.25"/>
<circle cx="77.2" cy="705.9" r="2.35" fill="none" stroke="#000" stroke-width="1.25"/>
<circle cx="117.2" cy="680.0" r="2.35" fill="none" stroke="#000" stroke-width="1.25"/>
<circle cx="169.8" cy="671.0" r="2.35" fill="none" stroke="#000" stroke-width="1.25"/>
<rect x="156.2" y="728.2" width="46.5" height="48.4" fill="#fff" stroke="#777" stroke-width="0.9"/>
<circle cx="169.0" cy="734.2" r="1.5" fill="#ff0000"/>
<text x="181.9" y="736.7" class="lgc">1</text>
<circle cx="169.0" cy="743.4" r="1.5" fill="#80ff00"/>
<text x="181.9" y="745.9" class="lgc">2</text>
<circle cx="169.0" cy="752.6" r="1.5" fill="#00ffff"/>
<text x="181.9" y="755.1" class="lgc">3</text>
<circle cx="169.0" cy="761.8" r="1.5" fill="#8000ff"/>
<text x="181.9" y="764.3" class="lgc">4</text>
<circle cx="169.0" cy="771.0" r="2.2" fill="none" stroke="#000" stroke-width="1.1"/>
<text x="181.9" y="773.5" class="lgc">data1</text>
<rect x="265.6" y="658.3" width="179.4" height="125.7" fill="none" stroke="#9c9c9c" stroke-width="1.15"/>
<path d="M272.3 784.0v-1.6M272.3 658.3v1.6" stroke="#888" stroke-width="0.8"/>
<text transform="translate(272.30,795.00) scale(1.03,1)" font-size="8.4" font-weight="bold" text-anchor="middle">0</text>
<path d="M314.2 784.0v-1.6M314.2 658.3v1.6" stroke="#888" stroke-width="0.8"/>
<text transform="translate(314.23,795.00) scale(1.03,1)" font-size="8.4" font-weight="bold" text-anchor="middle">50</text>
<path d="M356.1 784.0v-1.6M356.1 658.3v1.6" stroke="#888" stroke-width="0.8"/>
<text transform="translate(356.15,795.00) scale(1.03,1)" font-size="8.4" font-weight="bold" text-anchor="middle">100</text>
<path d="M398.1 784.0v-1.6M398.1 658.3v1.6" stroke="#888" stroke-width="0.8"/>
<text transform="translate(398.07,795.00) scale(1.03,1)" font-size="8.4" font-weight="bold" text-anchor="middle">150</text>
<path d="M440.0 784.0v-1.6M440.0 658.3v1.6" stroke="#888" stroke-width="0.8"/>
<text transform="translate(440.00,795.00) scale(1.03,1)" font-size="8.4" font-weight="bold" text-anchor="middle">200</text>
<path d="M265.6 784.0h1.6M445.0 784.0h-1.6" stroke="#888" stroke-width="0.8"/>
<text transform="translate(262.10,787.40) scale(1.03,1)" font-size="8.4" font-weight="bold" text-anchor="end">0</text>
<path d="M265.6 758.9h1.6M445.0 758.9h-1.6" stroke="#888" stroke-width="0.8"/>
<text transform="translate(262.10,762.26) scale(1.03,1)" font-size="8.4" font-weight="bold" text-anchor="end">50</text>
<path d="M265.6 733.7h1.6M445.0 733.7h-1.6" stroke="#888" stroke-width="0.8"/>
<text transform="translate(262.10,737.12) scale(1.03,1)" font-size="8.4" font-weight="bold" text-anchor="end">100</text>
<path d="M265.6 708.6h1.6M445.0 708.6h-1.6" stroke="#888" stroke-width="0.8"/>
<text transform="translate(262.10,711.98) scale(1.03,1)" font-size="8.4" font-weight="bold" text-anchor="end">150</text>
<path d="M265.6 683.4h1.6M445.0 683.4h-1.6" stroke="#888" stroke-width="0.8"/>
<text transform="translate(262.10,686.84) scale(1.03,1)" font-size="8.4" font-weight="bold" text-anchor="end">200</text>
<path d="M265.6 658.3h1.6M445.0 658.3h-1.6" stroke="#888" stroke-width="0.8"/>
<text transform="translate(262.10,661.70) scale(1.03,1)" font-size="8.4" font-weight="bold" text-anchor="end">250</text>
<text x="355.3" y="806.6" class="lb" text-anchor="middle">V1</text>
<text transform="translate(245.1,721.1) rotate(-90)" x="0" y="0" class="lb" text-anchor="middle">V3</text>
<text transform="translate(355.30,655.90) scale(1.0,1)" font-size="9.3" font-weight="bold" text-anchor="middle">K-Means</text>
<path transform="scale(1,0.8333)" d="M274.5 925.9h0M275.7 925.0h0M276.4 924.3h0M277.2 923.5h0M278.6 922.6h0M279.4 921.4h0M279.7 920.0h0M280.1 918.6h0M280.8 916.9h0M282.5 892.9h0M283.5 892.5h0M285.0 891.8h0M286.4 890.7h0M287.4 889.0h0M287.9 887.6h0M288.4 886.1h0M288.9 884.9h0M289.3 883.6h0M289.8 876.3h0M290.8 875.6h0M291.3 874.5h0M291.8 873.4h0M292.3 872.0h0M292.7 870.6h0M293.2 869.2h0M293.7 867.8h0" stroke="#ff0000" stroke-width="3.89" stroke-linecap="round" fill="none"/>
<path transform="scale(1,0.8333)" d="M294.4 866.9h0M295.2 866.1h0M296.2 865.5h0M297.1 865.0h0M298.1 864.3h0M299.1 863.6h0M300.0 862.9h0M301.0 862.1h0M302.0 861.4h0M303.0 860.7h0M303.9 860.2h0M304.9 859.6h0M305.8 859.3h0M306.7 859.0h0M307.8 859.3h0M308.8 858.6h0M309.8 857.9h0M310.6 857.2h0M311.4 856.5h0M312.2 855.8h0M313.0 855.1h0M313.8 854.4h0M314.7 853.7h0M315.6 853.0h0M316.6 852.3h0M317.6 851.2h0M318.5 850.1h0M319.4 849.3h0M320.2 848.5h0M321.0 847.7h0M322.2 847.4h0M323.4 847.0h0M324.6 846.9h0M325.7 846.8h0M326.8 846.6h0M327.9 846.7h0M329.0 846.8h0M330.1 846.8h0" stroke="#00ffff" stroke-width="3.89" stroke-linecap="round" fill="none"/>
<path transform="scale(1,0.8333)" d="M331.2 846.9h0M332.3 846.7h0M333.5 846.5h0M334.6 846.3h0M335.3 845.5h0M335.9 844.7h0M336.5 844.0h0M337.2 843.2h0M338.0 842.5h0M338.9 841.9h0M339.8 841.2h0M340.7 840.6h0M341.6 840.0h0M342.4 839.3h0M343.4 838.9h0M344.4 838.6h0M345.4 838.2h0M346.4 837.8h0M347.4 837.7h0M348.4 837.6h0M349.4 837.5h0M350.4 837.4h0M351.3 837.1h0M352.1 836.8h0M353.0 836.5h0M353.9 836.2h0M354.8 835.9h0M355.7 835.6h0M356.5 835.3h0M357.4 835.0h0M358.3 834.7h0M359.2 834.5h0M360.1 834.3h0M360.9 834.1h0M361.8 833.8h0M362.7 833.6h0M363.6 833.4h0M364.5 833.2h0M365.4 832.9h0M366.2 832.7h0M367.1 832.5h0M368.0 832.3h0M368.9 832.0h0M369.8 831.8h0M370.6 831.5h0M371.5 831.2h0M372.4 830.9h0M373.3 830.6h0M374.2 830.3h0M375.0 830.0h0" stroke="#8000ff" stroke-width="3.89" stroke-linecap="round" fill="none"/>
<path transform="scale(1,0.8333)" d="M375.9 829.7h0M376.8 829.5h0M377.7 829.2h0M378.6 828.9h0M379.4 828.6h0M380.4 828.5h0M381.4 828.3h0M382.3 828.2h0M383.3 828.0h0M384.3 827.9h0M385.2 827.8h0M386.2 827.6h0M387.1 827.5h0M388.1 827.3h0M389.1 827.2h0M390.0 827.1h0M391.0 827.1h0M391.9 827.1h0M392.9 827.1h0M393.9 827.1h0M394.8 827.1h0M395.8 827.1h0M396.7 827.1h0M397.7 827.1h0M398.7 827.1h0M399.6 827.1h0M400.6 827.1h0M401.6 826.9h0M402.5 826.7h0M403.5 826.5h0M404.4 826.4h0M405.4 826.2h0M406.4 826.0h0M407.3 825.8h0M408.3 825.7h0M409.2 825.5h0M410.2 825.3h0M411.2 825.1h0M412.0 824.9h0M412.9 824.6h0M413.8 824.3h0M414.7 824.0h0M415.6 823.7h0M416.5 823.4h0M417.3 823.1h0M418.2 822.8h0M419.1 822.6h0M420.0 822.3h0M420.9 822.0h0M421.7 821.7h0M422.6 821.2h0M423.5 820.8h0M424.4 820.3h0M425.3 819.8h0M426.1 819.4h0M427.0 818.9h0M427.9 818.4h0M428.8 818.0h0M429.7 817.5h0M430.6 817.2h0M431.6 816.9h0M432.5 816.7h0M433.4 816.4h0M434.4 816.1h0M435.3 815.8h0M436.3 815.6h0" stroke="#80ff00" stroke-width="3.89" stroke-linecap="round" fill="none"/>
<path transform="scale(1,0.8333)" d="M274.0 937.0h0M281.5 912.3h0M282.3 900.3h0" stroke="#ff0000" stroke-width="3.24" stroke-linecap="round" fill="none"/>
<circle cx="283.9" cy="749.2" r="2.35" fill="none" stroke="#000" stroke-width="1.25"/>
<circle cx="312.9" cy="713.2" r="2.35" fill="none" stroke="#000" stroke-width="1.25"/>
<circle cx="352.8" cy="698.3" r="2.35" fill="none" stroke="#000" stroke-width="1.25"/>
<circle cx="406.1" cy="687.6" r="2.35" fill="none" stroke="#000" stroke-width="1.25"/>
<rect x="391.1" y="728.2" width="46.5" height="48.4" fill="#fff" stroke="#777" stroke-width="0.9"/>
<circle cx="403.9" cy="734.2" r="1.5" fill="#ff0000"/>
<text x="416.8" y="736.7" class="lgc">1</text>
<circle cx="403.9" cy="743.4" r="1.5" fill="#80ff00"/>
<text x="416.8" y="745.9" class="lgc">2</text>
<circle cx="403.9" cy="752.6" r="1.5" fill="#00ffff"/>
<text x="416.8" y="755.1" class="lgc">3</text>
<circle cx="403.9" cy="761.8" r="1.5" fill="#8000ff"/>
<text x="416.8" y="764.3" class="lgc">4</text>
<circle cx="403.9" cy="771.0" r="2.2" fill="none" stroke="#000" stroke-width="1.1"/>
<text x="416.8" y="773.5" class="lgc">data1</text>
<rect x="501.3" y="658.3" width="178.1" height="125.7" fill="none" stroke="#9c9c9c" stroke-width="1.15"/>
<path d="M507.6 784.0v-1.6M507.6 658.3v1.6" stroke="#888" stroke-width="0.8"/>
<text transform="translate(507.60,795.00) scale(1.03,1)" font-size="8.4" font-weight="bold" text-anchor="middle">0</text>
<path d="M549.5 784.0v-1.6M549.5 658.3v1.6" stroke="#888" stroke-width="0.8"/>
<text transform="translate(549.45,795.00) scale(1.03,1)" font-size="8.4" font-weight="bold" text-anchor="middle">50</text>
<path d="M591.3 784.0v-1.6M591.3 658.3v1.6" stroke="#888" stroke-width="0.8"/>
<text transform="translate(591.30,795.00) scale(1.03,1)" font-size="8.4" font-weight="bold" text-anchor="middle">100</text>
<path d="M633.1 784.0v-1.6M633.1 658.3v1.6" stroke="#888" stroke-width="0.8"/>
<text transform="translate(633.15,795.00) scale(1.03,1)" font-size="8.4" font-weight="bold" text-anchor="middle">150</text>
<path d="M675.0 784.0v-1.6M675.0 658.3v1.6" stroke="#888" stroke-width="0.8"/>
<text transform="translate(675.00,795.00) scale(1.03,1)" font-size="8.4" font-weight="bold" text-anchor="middle">200</text>
<path d="M501.3 784.0h1.6M679.4 784.0h-1.6" stroke="#888" stroke-width="0.8"/>
<text transform="translate(497.80,787.40) scale(1.03,1)" font-size="8.4" font-weight="bold" text-anchor="end">0</text>
<path d="M501.3 758.9h1.6M679.4 758.9h-1.6" stroke="#888" stroke-width="0.8"/>
<text transform="translate(497.80,762.26) scale(1.03,1)" font-size="8.4" font-weight="bold" text-anchor="end">500</text>
<path d="M501.3 733.7h1.6M679.4 733.7h-1.6" stroke="#888" stroke-width="0.8"/>
<text transform="translate(497.80,737.12) scale(1.03,1)" font-size="8.4" font-weight="bold" text-anchor="end">1000</text>
<path d="M501.3 708.6h1.6M679.4 708.6h-1.6" stroke="#888" stroke-width="0.8"/>
<text transform="translate(497.80,711.98) scale(1.03,1)" font-size="8.4" font-weight="bold" text-anchor="end">1500</text>
<path d="M501.3 683.4h1.6M679.4 683.4h-1.6" stroke="#888" stroke-width="0.8"/>
<text transform="translate(497.80,686.84) scale(1.03,1)" font-size="8.4" font-weight="bold" text-anchor="end">2000</text>
<path d="M501.3 658.3h1.6M679.4 658.3h-1.6" stroke="#888" stroke-width="0.8"/>
<text transform="translate(497.80,661.70) scale(1.03,1)" font-size="8.4" font-weight="bold" text-anchor="end">2500</text>
<text x="590.4" y="806.6" class="lb" text-anchor="middle">V1</text>
<text transform="translate(476.5,721.1) rotate(-90)" x="0" y="0" class="lb" text-anchor="middle">V4</text>
<text transform="translate(590.35,655.90) scale(1.0,1)" font-size="9.3" font-weight="bold" text-anchor="middle">K-Means</text>
<path transform="scale(1,0.8333)" d="M509.0 936.7h0M509.2 935.6h0M509.4 934.5h0M509.6 933.4h0M510.4 932.2h0M511.2 931.0h0M512.1 929.8h0M512.9 928.6h0M513.7 927.5h0M514.4 926.4h0M515.1 925.4h0M515.9 924.6h0M516.6 923.8h0M517.4 922.9h0M518.1 922.1h0M518.9 921.3h0M519.6 920.5h0M520.3 919.7h0M521.1 918.9h0M521.8 918.1h0M522.6 917.2h0M523.3 916.3h0M524.0 915.4h0M524.8 914.7h0M525.5 914.0h0M526.3 913.3h0M527.0 912.6h0M527.8 911.9h0M528.5 911.2h0M529.2 910.5h0" stroke="#ff0000" stroke-width="3.89" stroke-linecap="round" fill="none"/>
<path transform="scale(1,0.8333)" d="M530.0 909.9h0M530.7 909.2h0M531.6 908.0h0M532.4 906.8h0M533.3 906.3h0M534.3 905.7h0M535.2 905.2h0M536.0 904.7h0M536.9 904.2h0M537.7 903.6h0M538.5 903.1h0M539.4 902.6h0M540.2 902.1h0M541.0 901.7h0M541.9 901.2h0M542.4 900.0h0M543.0 898.7h0M543.8 898.3h0M544.6 897.9h0M545.5 897.5h0M546.3 897.1h0M547.2 896.7h0M548.0 896.3h0M548.8 895.9h0M549.7 895.5h0M550.5 894.9h0M551.3 894.3h0M552.2 893.7h0M553.0 893.1h0M553.8 892.4h0M554.7 891.6h0M555.5 890.9h0M556.3 890.2h0M557.2 889.3h0M558.0 888.4h0M558.8 887.5h0M559.7 886.6h0M560.2 885.5h0M560.7 884.4h0M561.1 883.3h0M561.6 882.1h0M562.1 881.0h0M563.0 879.4h0M563.7 878.6h0M564.4 877.8h0M565.0 877.0h0M565.7 876.2h0" stroke="#00ffff" stroke-width="3.89" stroke-linecap="round" fill="none"/>
<path transform="scale(1,0.8333)" d="M566.4 875.4h0M567.2 874.5h0M568.0 873.7h0M568.9 872.9h0M569.7 872.1h0M570.5 871.3h0M571.4 870.5h0M572.2 869.7h0M573.0 868.9h0M573.9 868.3h0M574.8 867.6h0M575.7 867.0h0M576.6 866.3h0M577.5 865.7h0M578.5 865.1h0M579.4 864.5h0M580.4 863.9h0M581.4 863.3h0M582.2 862.8h0M583.0 862.3h0M583.8 861.8h0M584.6 861.3h0M585.4 860.8h0M586.5 859.6h0M587.4 859.2h0M588.3 858.9h0M589.2 858.5h0M590.2 858.1h0M591.1 857.7h0M592.0 857.3h0M592.9 857.0h0M593.9 856.6h0M594.7 856.2h0M595.6 855.8h0M596.5 855.4h0M597.4 855.0h0M598.3 854.7h0M599.2 854.3h0M600.0 853.9h0M600.9 853.5h0M601.8 853.1h0M602.6 852.6h0M603.4 852.2h0M604.3 851.7h0M605.1 851.2h0M605.9 850.7h0M606.8 850.2h0M607.6 849.8h0M608.4 849.3h0M609.1 848.5h0M609.7 847.8h0M610.4 847.0h0" stroke="#8000ff" stroke-width="3.89" stroke-linecap="round" fill="none"/>
<path transform="scale(1,0.8333)" d="M611.1 846.2h0M612.0 845.9h0M612.9 845.7h0M613.9 845.4h0M614.8 845.1h0M615.8 844.9h0M616.7 844.6h0M617.7 844.3h0M618.5 843.9h0M619.4 843.4h0M620.3 843.0h0M621.2 842.5h0M622.1 842.1h0M623.0 841.6h0M623.8 841.2h0M624.7 840.8h0M625.6 840.4h0M626.5 840.0h0M627.4 839.5h0M628.2 839.1h0M629.1 838.7h0M630.0 838.3h0M630.9 837.9h0M631.8 837.5h0M632.6 837.1h0M633.5 836.6h0M634.4 836.2h0M635.3 835.8h0M636.2 835.4h0M637.1 834.9h0M637.9 834.5h0M638.8 834.1h0M639.7 833.7h0M640.6 833.2h0M641.5 832.8h0M642.3 832.3h0M643.2 831.8h0M644.1 831.3h0M645.0 830.8h0M645.9 830.3h0M646.7 829.7h0M647.6 829.2h0M648.5 828.7h0M649.4 828.2h0M650.3 827.8h0M651.2 827.4h0M652.0 826.9h0M652.9 826.5h0M653.8 826.1h0M654.7 825.7h0M655.6 825.2h0M656.4 824.8h0M657.3 824.4h0M658.3 824.1h0M659.2 823.8h0M660.2 823.6h0M661.1 823.3h0M662.0 823.0h0M663.0 822.7h0M663.9 822.5h0M664.8 821.7h0M665.7 820.9h0M666.6 820.2h0M667.3 819.2h0M668.0 818.3h0M668.6 817.4h0M669.3 816.5h0M670.0 815.6h0M671.1 814.8h0" stroke="#80ff00" stroke-width="3.89" stroke-linecap="round" fill="none"/>
<circle cx="519.6" cy="768.2" r="2.35" fill="none" stroke="#000" stroke-width="1.25"/>
<circle cx="547.9" cy="746.5" r="2.35" fill="none" stroke="#000" stroke-width="1.25"/>
<circle cx="588.5" cy="717.2" r="2.35" fill="none" stroke="#000" stroke-width="1.25"/>
<circle cx="641.1" cy="694.3" r="2.35" fill="none" stroke="#000" stroke-width="1.25"/>
<rect x="626.8" y="728.2" width="46.5" height="48.4" fill="#fff" stroke="#777" stroke-width="0.9"/>
<circle cx="639.6" cy="734.2" r="1.5" fill="#ff0000"/>
<text x="652.5" y="736.7" class="lgc">1</text>
<circle cx="639.6" cy="743.4" r="1.5" fill="#80ff00"/>
<text x="652.5" y="745.9" class="lgc">2</text>
<circle cx="639.6" cy="752.6" r="1.5" fill="#00ffff"/>
<text x="652.5" y="755.1" class="lgc">3</text>
<circle cx="639.6" cy="761.8" r="1.5" fill="#8000ff"/>
<text x="652.5" y="764.3" class="lgc">4</text>
<circle cx="639.6" cy="771.0" r="2.2" fill="none" stroke="#000" stroke-width="1.1"/>
<text x="652.5" y="773.5" class="lgc">data1</text>
<rect x="30.6" y="832.3" width="178.2" height="125.8" fill="none" stroke="#9c9c9c" stroke-width="1.15"/>
<path d="M31.0 958.1v-1.6M31.0 832.3v1.6" stroke="#888" stroke-width="0.8"/>
<text transform="translate(31.00,969.10) scale(1.03,1)" font-size="8.4" font-weight="bold" text-anchor="middle">0</text>
<path d="M67.0 958.1v-1.6M67.0 832.3v1.6" stroke="#888" stroke-width="0.8"/>
<text transform="translate(66.95,969.10) scale(1.03,1)" font-size="8.4" font-weight="bold" text-anchor="middle">50</text>
<path d="M102.9 958.1v-1.6M102.9 832.3v1.6" stroke="#888" stroke-width="0.8"/>
<text transform="translate(102.90,969.10) scale(1.03,1)" font-size="8.4" font-weight="bold" text-anchor="middle">100</text>
<path d="M138.9 958.1v-1.6M138.9 832.3v1.6" stroke="#888" stroke-width="0.8"/>
<text transform="translate(138.85,969.10) scale(1.03,1)" font-size="8.4" font-weight="bold" text-anchor="middle">150</text>
<path d="M174.8 958.1v-1.6M174.8 832.3v1.6" stroke="#888" stroke-width="0.8"/>
<text transform="translate(174.80,969.10) scale(1.03,1)" font-size="8.4" font-weight="bold" text-anchor="middle">200</text>
<path d="M30.6 958.1h1.6M208.8 958.1h-1.6" stroke="#888" stroke-width="0.8"/>
<text transform="translate(27.10,961.50) scale(1.03,1)" font-size="8.4" font-weight="bold" text-anchor="end">0</text>
<path d="M30.6 932.9h1.6M208.8 932.9h-1.6" stroke="#888" stroke-width="0.8"/>
<text transform="translate(27.10,936.34) scale(1.03,1)" font-size="8.4" font-weight="bold" text-anchor="end">50</text>
<path d="M30.6 907.8h1.6M208.8 907.8h-1.6" stroke="#888" stroke-width="0.8"/>
<text transform="translate(27.10,911.18) scale(1.03,1)" font-size="8.4" font-weight="bold" text-anchor="end">100</text>
<path d="M30.6 882.6h1.6M208.8 882.6h-1.6" stroke="#888" stroke-width="0.8"/>
<text transform="translate(27.10,886.02) scale(1.03,1)" font-size="8.4" font-weight="bold" text-anchor="end">150</text>
<path d="M30.6 857.5h1.6M208.8 857.5h-1.6" stroke="#888" stroke-width="0.8"/>
<text transform="translate(27.10,860.86) scale(1.03,1)" font-size="8.4" font-weight="bold" text-anchor="end">200</text>
<path d="M30.6 832.3h1.6M208.8 832.3h-1.6" stroke="#888" stroke-width="0.8"/>
<text transform="translate(27.10,835.70) scale(1.03,1)" font-size="8.4" font-weight="bold" text-anchor="end">250</text>
<text x="119.7" y="980.7" class="lb" text-anchor="middle">V2</text>
<text transform="translate(10.1,895.2) rotate(-90)" x="0" y="0" class="lb" text-anchor="middle">V3</text>
<text transform="translate(119.70,829.90) scale(1.0,1)" font-size="9.3" font-weight="bold" text-anchor="middle">K-Means</text>
<path transform="scale(1,0.8333)" d="M50.1 1134.5h0M50.7 1133.4h0M51.3 1132.3h0M51.9 1131.4h0M52.4 1130.5h0M65.2 1101.7h0M66.1 1100.8h0M71.8 1099.7h0M72.6 1099.7h0M83.6 1097.9h0M84.3 1097.2h0M85.0 1096.4h0M85.7 1095.7h0M86.6 1095.0h0M87.4 1094.2h0M88.2 1093.5h0M89.0 1092.8h0M91.2 1085.0h0M92.8 1084.6h0M97.2 1081.9h0M98.0 1080.7h0M98.9 1079.5h0M99.4 1078.4h0M100.0 1077.4h0M100.5 1076.4h0M101.6 1075.3h0" stroke="#ff0000" stroke-width="3.89" stroke-linecap="round" fill="none"/>
<path transform="scale(1,0.8333)" d="M102.7 1074.9h0M103.8 1074.6h0M113.6 1074.2h0M114.9 1073.6h0M116.1 1073.0h0M117.2 1073.0h0M118.3 1073.0h0M119.4 1073.0h0M120.6 1072.7h0M121.8 1072.4h0M122.9 1072.0h0M124.0 1071.6h0M125.1 1071.3h0M126.0 1071.1h0M127.0 1071.0h0M127.9 1070.8h0M133.3 1070.2h0M134.1 1069.6h0M134.9 1069.0h0M136.6 1068.4h0M135.5 1069.5h0M136.6 1068.8h0M137.8 1068.2h0M138.7 1067.7h0M139.6 1067.2h0M140.6 1066.7h0M141.4 1066.0h0M142.2 1065.2h0M143.1 1064.5h0M143.9 1063.7h0M145.0 1063.3h0M146.2 1062.9h0M147.3 1062.5h0M148.1 1062.0h0M148.9 1061.4h0M149.8 1060.9h0M150.6 1060.4h0M151.5 1059.9h0M152.3 1059.4h0M153.1 1058.9h0M154.0 1058.4h0M155.1 1057.9h0M156.2 1057.4h0M157.3 1056.9h0M158.5 1056.7h0M159.6 1056.6h0M160.7 1056.4h0M161.8 1056.3h0M162.9 1056.2h0M164.0 1056.1h0M165.2 1056.0h0M166.3 1055.9h0M167.4 1055.8h0M168.5 1056.4h0M169.4 1056.4h0" stroke="#00ffff" stroke-width="3.89" stroke-linecap="round" fill="none"/>
<path transform="scale(1,0.8333)" d="M170.4 1056.4h0M171.3 1056.4h0M172.2 1056.4h0M173.2 1056.4h0M174.1 1056.4h0M174.1 1055.2h0M174.1 1054.0h0M174.1 1052.8h0M174.1 1051.6h0M174.7 1050.6h0M175.2 1049.6h0M175.8 1048.6h0M176.9 1048.1h0M178.0 1047.6h0M179.1 1047.1h0M179.7 1046.3h0M180.3 1045.2h0M181.0 1044.6h0M181.7 1043.9h0M182.4 1043.2h0M183.1 1042.5h0M183.9 1041.8h0M184.7 1041.1h0M185.6 1040.5h0" stroke="#8000ff" stroke-width="3.89" stroke-linecap="round" fill="none"/>
<path transform="scale(1,0.8333)" d="M186.4 1039.8h0M186.7 1038.5h0M187.0 1037.2h0M187.9 1036.7h0M188.8 1036.2h0M189.8 1035.7h0M190.6 1034.6h0M191.4 1033.4h0M197.6 1033.4h0M198.2 1032.3h0M198.7 1031.2h0M198.9 1029.9h0M199.1 1028.6h0M199.3 1027.4h0M199.8 1026.5h0M200.4 1025.6h0" stroke="#80ff00" stroke-width="3.89" stroke-linecap="round" fill="none"/>
<path transform="scale(1,0.8333)" d="M37.7 1145.6h0M54.6 1127.4h0M58.7 1125.7h0M62.3 1120.8h0M63.6 1109.0h0" stroke="#ff0000" stroke-width="3.24" stroke-linecap="round" fill="none"/>
<path transform="scale(1,0.8333)" d="M108.7 1075.0h0" stroke="#00ffff" stroke-width="3.24" stroke-linecap="round" fill="none"/>
<circle cx="70.9" cy="923.2" r="2.35" fill="none" stroke="#000" stroke-width="1.25"/>
<circle cx="142.5" cy="887.2" r="2.35" fill="none" stroke="#000" stroke-width="1.25"/>
<circle cx="179.8" cy="872.3" r="2.35" fill="none" stroke="#000" stroke-width="1.25"/>
<circle cx="192.4" cy="861.6" r="2.35" fill="none" stroke="#000" stroke-width="1.25"/>
<rect x="156.2" y="902.2" width="46.5" height="48.4" fill="#fff" stroke="#777" stroke-width="0.9"/>
<circle cx="169.0" cy="908.2" r="1.5" fill="#ff0000"/>
<text x="181.9" y="910.7" class="lgc">1</text>
<circle cx="169.0" cy="917.4" r="1.5" fill="#80ff00"/>
<text x="181.9" y="919.9" class="lgc">2</text>
<circle cx="169.0" cy="926.6" r="1.5" fill="#00ffff"/>
<text x="181.9" y="929.1" class="lgc">3</text>
<circle cx="169.0" cy="935.8" r="1.5" fill="#8000ff"/>
<text x="181.9" y="938.3" class="lgc">4</text>
<circle cx="169.0" cy="945.0" r="2.2" fill="none" stroke="#000" stroke-width="1.1"/>
<text x="181.9" y="947.5" class="lgc">data1</text>
<rect x="265.6" y="832.3" width="179.4" height="125.8" fill="none" stroke="#9c9c9c" stroke-width="1.15"/>
<path d="M267.0 958.1v-1.6M267.0 832.3v1.6" stroke="#888" stroke-width="0.8"/>
<text transform="translate(267.00,969.10) scale(1.03,1)" font-size="8.4" font-weight="bold" text-anchor="middle">0</text>
<path d="M302.9 958.1v-1.6M302.9 832.3v1.6" stroke="#888" stroke-width="0.8"/>
<text transform="translate(302.85,969.10) scale(1.03,1)" font-size="8.4" font-weight="bold" text-anchor="middle">50</text>
<path d="M338.7 958.1v-1.6M338.7 832.3v1.6" stroke="#888" stroke-width="0.8"/>
<text transform="translate(338.70,969.10) scale(1.03,1)" font-size="8.4" font-weight="bold" text-anchor="middle">100</text>
<path d="M374.5 958.1v-1.6M374.5 832.3v1.6" stroke="#888" stroke-width="0.8"/>
<text transform="translate(374.55,969.10) scale(1.03,1)" font-size="8.4" font-weight="bold" text-anchor="middle">150</text>
<path d="M410.4 958.1v-1.6M410.4 832.3v1.6" stroke="#888" stroke-width="0.8"/>
<text transform="translate(410.40,969.10) scale(1.03,1)" font-size="8.4" font-weight="bold" text-anchor="middle">200</text>
<path d="M265.6 958.1h1.6M445.0 958.1h-1.6" stroke="#888" stroke-width="0.8"/>
<text transform="translate(262.10,961.50) scale(1.03,1)" font-size="8.4" font-weight="bold" text-anchor="end">0</text>
<path d="M265.6 932.9h1.6M445.0 932.9h-1.6" stroke="#888" stroke-width="0.8"/>
<text transform="translate(262.10,936.34) scale(1.03,1)" font-size="8.4" font-weight="bold" text-anchor="end">500</text>
<path d="M265.6 907.8h1.6M445.0 907.8h-1.6" stroke="#888" stroke-width="0.8"/>
<text transform="translate(262.10,911.18) scale(1.03,1)" font-size="8.4" font-weight="bold" text-anchor="end">1000</text>
<path d="M265.6 882.6h1.6M445.0 882.6h-1.6" stroke="#888" stroke-width="0.8"/>
<text transform="translate(262.10,886.02) scale(1.03,1)" font-size="8.4" font-weight="bold" text-anchor="end">1500</text>
<path d="M265.6 857.5h1.6M445.0 857.5h-1.6" stroke="#888" stroke-width="0.8"/>
<text transform="translate(262.10,860.86) scale(1.03,1)" font-size="8.4" font-weight="bold" text-anchor="end">2000</text>
<path d="M265.6 832.3h1.6M445.0 832.3h-1.6" stroke="#888" stroke-width="0.8"/>
<text transform="translate(262.10,835.70) scale(1.03,1)" font-size="8.4" font-weight="bold" text-anchor="end">2500</text>
<text x="355.3" y="980.7" class="lb" text-anchor="middle">V2</text>
<text transform="translate(240.8,895.2) rotate(-90)" x="0" y="0" class="lb" text-anchor="middle">V4</text>
<text transform="translate(355.30,829.90) scale(1.0,1)" font-size="9.3" font-weight="bold" text-anchor="middle">K-Means</text>
<path transform="scale(1,0.8333)" d="M286.1 1141.8h0M286.7 1140.6h0M287.2 1139.4h0M287.8 1138.5h0M288.4 1137.7h0M289.2 1136.9h0M290.0 1136.1h0M290.8 1135.3h0M294.7 1133.8h0M295.6 1133.3h0M296.5 1132.8h0M297.4 1132.6h0M298.3 1132.4h0M299.1 1132.1h0M300.0 1131.6h0M300.9 1131.0h0M301.8 1130.4h0M319.7 1127.5h0M320.6 1127.0h0M321.4 1126.5h0M322.3 1126.1h0M323.2 1125.7h0M324.1 1125.3h0M325.0 1124.9h0M325.9 1124.4h0M326.8 1124.0h0M327.7 1123.6h0M333.6 1123.2h0M334.8 1121.7h0M335.7 1120.9h0M336.6 1120.0h0" stroke="#ff0000" stroke-width="3.89" stroke-linecap="round" fill="none"/>
<path transform="scale(1,0.8333)" d="M337.8 1119.4h0M338.9 1118.8h0M349.6 1116.4h0M350.7 1116.1h0M351.7 1115.9h0M352.7 1115.6h0M353.6 1115.5h0M354.5 1115.3h0M355.4 1115.2h0M356.2 1114.9h0M357.1 1114.7h0M358.0 1114.4h0M358.9 1114.3h0M359.8 1114.1h0M360.7 1114.0h0M361.6 1113.8h0M362.5 1113.6h0M363.4 1113.5h0M369.6 1111.5h0M370.5 1111.3h0M371.4 1111.0h0M372.5 1110.7h0M373.5 1110.3h0M373.8 1109.2h0M374.1 1108.1h0M374.3 1107.0h0M375.5 1106.7h0M376.6 1106.3h0M377.7 1106.0h0M378.8 1105.6h0M379.9 1105.2h0M381.0 1104.8h0M382.2 1104.4h0M383.3 1104.0h0M384.4 1103.6h0M385.2 1103.1h0M386.1 1102.7h0M386.9 1102.2h0M387.7 1101.7h0M388.6 1101.3h0M389.4 1100.8h0M390.2 1100.4h0M391.1 1099.9h0M391.9 1099.4h0M392.7 1098.9h0M393.6 1098.5h0M394.4 1098.0h0M395.3 1097.4h0M396.1 1096.8h0M396.9 1096.3h0M397.8 1095.7h0M398.4 1094.9h0M399.1 1094.2h0M399.8 1093.4h0M400.4 1092.7h0M401.1 1091.9h0M401.9 1090.9h0M402.7 1089.9h0M403.6 1088.9h0M404.5 1088.1h0M405.2 1087.1h0" stroke="#00ffff" stroke-width="3.89" stroke-linecap="round" fill="none"/>
<path transform="scale(1,0.8333)" d="M405.9 1086.1h0M406.7 1085.1h0M407.6 1084.3h0M408.5 1083.6h0M409.5 1082.8h0M409.5 1081.6h0M409.5 1080.3h0M409.5 1079.0h0M410.0 1077.8h0M410.6 1076.5h0M411.1 1075.3h0M411.9 1074.2h0M412.6 1073.2h0M413.4 1072.2h0M414.0 1071.5h0M414.7 1070.7h0M415.4 1070.0h0M416.2 1068.4h0M417.1 1067.7h0M418.0 1066.9h0M419.0 1066.2h0M419.7 1065.2h0M420.4 1064.2h0M421.2 1063.1h0M421.7 1061.9h0" stroke="#8000ff" stroke-width="3.89" stroke-linecap="round" fill="none"/>
<path transform="scale(1,0.8333)" d="M422.3 1060.6h0M422.9 1059.4h0M422.9 1058.2h0M422.9 1057.1h0M422.9 1056.0h0M422.9 1054.8h0M422.6 1053.3h0M422.3 1051.8h0M422.9 1050.8h0M423.4 1049.8h0M424.0 1048.8h0M424.5 1047.5h0M425.1 1046.2h0M425.6 1045.0h0M426.0 1043.7h0M426.4 1042.5h0M426.8 1041.2h0M427.0 1039.7h0M432.9 1038.9h0M433.4 1037.8h0M434.0 1036.7h0M434.3 1035.5h0M434.6 1034.4h0M434.8 1033.3h0M435.1 1032.1h0M435.1 1030.6h0M435.1 1029.1h0M435.4 1027.6h0M435.7 1026.1h0M436.6 1024.5h0" stroke="#80ff00" stroke-width="3.89" stroke-linecap="round" fill="none"/>
<path transform="scale(1,0.8333)" d="M274.2 1145.4h0M308.1 1128.5h0" stroke="#ff0000" stroke-width="3.24" stroke-linecap="round" fill="none"/>
<path transform="scale(1,0.8333)" d="M344.6 1118.1h0" stroke="#00ffff" stroke-width="3.24" stroke-linecap="round" fill="none"/>
<circle cx="306.9" cy="942.2" r="2.35" fill="none" stroke="#000" stroke-width="1.25"/>
<circle cx="378.5" cy="920.5" r="2.35" fill="none" stroke="#000" stroke-width="1.25"/>
<circle cx="415.4" cy="891.6" r="2.35" fill="none" stroke="#000" stroke-width="1.25"/>
<circle cx="428.4" cy="868.9" r="2.35" fill="none" stroke="#000" stroke-width="1.25"/>
<rect x="331.9" y="840.0" width="46.5" height="48.4" fill="#fff" stroke="#777" stroke-width="0.9"/>
<circle cx="344.7" cy="846.0" r="1.5" fill="#ff0000"/>
<text x="357.6" y="848.5" class="lgc">1</text>
<circle cx="344.7" cy="855.2" r="1.5" fill="#80ff00"/>
<text x="357.6" y="857.7" class="lgc">2</text>
<circle cx="344.7" cy="864.4" r="1.5" fill="#00ffff"/>
<text x="357.6" y="866.9" class="lgc">3</text>
<circle cx="344.7" cy="873.6" r="1.5" fill="#8000ff"/>
<text x="357.6" y="876.1" class="lgc">4</text>
<circle cx="344.7" cy="882.8" r="2.2" fill="none" stroke="#000" stroke-width="1.1"/>
<text x="357.6" y="885.3" class="lgc">data1</text>
<rect x="501.3" y="832.3" width="178.1" height="125.8" fill="none" stroke="#9c9c9c" stroke-width="1.15"/>
<path d="M504.3 958.1v-1.6M504.3 832.3v1.6" stroke="#888" stroke-width="0.8"/>
<text transform="translate(504.30,969.10) scale(1.03,1)" font-size="8.4" font-weight="bold" text-anchor="middle">0</text>
<path d="M544.5 958.1v-1.6M544.5 832.3v1.6" stroke="#888" stroke-width="0.8"/>
<text transform="translate(544.50,969.10) scale(1.03,1)" font-size="8.4" font-weight="bold" text-anchor="middle">50</text>
<path d="M584.7 958.1v-1.6M584.7 832.3v1.6" stroke="#888" stroke-width="0.8"/>
<text transform="translate(584.70,969.10) scale(1.03,1)" font-size="8.4" font-weight="bold" text-anchor="middle">100</text>
<path d="M624.9 958.1v-1.6M624.9 832.3v1.6" stroke="#888" stroke-width="0.8"/>
<text transform="translate(624.90,969.10) scale(1.03,1)" font-size="8.4" font-weight="bold" text-anchor="middle">150</text>
<path d="M665.1 958.1v-1.6M665.1 832.3v1.6" stroke="#888" stroke-width="0.8"/>
<text transform="translate(665.10,969.10) scale(1.03,1)" font-size="8.4" font-weight="bold" text-anchor="middle">200</text>
<path d="M501.3 958.1h1.6M679.4 958.1h-1.6" stroke="#888" stroke-width="0.8"/>
<text transform="translate(497.80,961.50) scale(1.03,1)" font-size="8.4" font-weight="bold" text-anchor="end">0</text>
<path d="M501.3 932.9h1.6M679.4 932.9h-1.6" stroke="#888" stroke-width="0.8"/>
<text transform="translate(497.80,936.34) scale(1.03,1)" font-size="8.4" font-weight="bold" text-anchor="end">500</text>
<path d="M501.3 907.8h1.6M679.4 907.8h-1.6" stroke="#888" stroke-width="0.8"/>
<text transform="translate(497.80,911.18) scale(1.03,1)" font-size="8.4" font-weight="bold" text-anchor="end">1000</text>
<path d="M501.3 882.6h1.6M679.4 882.6h-1.6" stroke="#888" stroke-width="0.8"/>
<text transform="translate(497.80,886.02) scale(1.03,1)" font-size="8.4" font-weight="bold" text-anchor="end">1500</text>
<path d="M501.3 857.5h1.6M679.4 857.5h-1.6" stroke="#888" stroke-width="0.8"/>
<text transform="translate(497.80,860.86) scale(1.03,1)" font-size="8.4" font-weight="bold" text-anchor="end">2000</text>
<path d="M501.3 832.3h1.6M679.4 832.3h-1.6" stroke="#888" stroke-width="0.8"/>
<text transform="translate(497.80,835.70) scale(1.03,1)" font-size="8.4" font-weight="bold" text-anchor="end">2500</text>
<text x="590.4" y="980.7" class="lb" text-anchor="middle">V3</text>
<text transform="translate(476.5,895.2) rotate(-90)" x="0" y="0" class="lb" text-anchor="middle">V4</text>
<text transform="translate(590.35,829.90) scale(1.0,1)" font-size="9.3" font-weight="bold" text-anchor="middle">K-Means</text>
<path transform="scale(1,0.8333)" d="M524.7 1141.8h0M525.7 1141.2h0M526.7 1140.6h0M527.4 1139.4h0M528.1 1138.2h0M529.3 1137.0h0M533.7 1135.3h0M534.7 1134.9h0M535.7 1134.5h0M536.7 1134.1h0M568.8 1131.4h0M569.5 1130.5h0M570.2 1129.7h0M571.2 1128.8h0M572.2 1128.0h0M573.1 1127.6h0M574.0 1127.2h0M574.8 1126.8h0M576.1 1126.4h0M577.4 1126.1h0M590.9 1123.6h0M591.9 1123.4h0M592.9 1123.2h0M595.9 1122.4h0M596.9 1122.0h0M597.9 1121.6h0M598.9 1121.2h0M599.9 1120.8h0M600.9 1120.4h0M601.9 1120.0h0" stroke="#ff0000" stroke-width="3.89" stroke-linecap="round" fill="none"/>
<path transform="scale(1,0.8333)" d="M602.9 1119.4h0M603.9 1118.8h0M604.6 1118.0h0M605.2 1117.2h0M605.9 1116.4h0M606.6 1115.8h0M607.4 1115.2h0M608.1 1114.6h0M608.9 1114.0h0M609.9 1113.3h0M610.9 1112.7h0M611.9 1112.1h0M612.9 1111.5h0M612.2 1111.8h0M612.4 1110.5h0M612.6 1109.1h0M612.8 1107.8h0M613.7 1107.0h0M614.6 1106.2h0M615.5 1105.4h0M616.5 1105.2h0M617.5 1105.0h0M618.5 1104.8h0M619.5 1104.6h0M620.3 1103.9h0M621.1 1103.3h0M621.9 1102.6h0M622.7 1102.0h0M623.5 1101.3h0M624.5 1100.7h0M625.5 1100.1h0M626.5 1099.5h0M627.5 1098.9h0M628.1 1097.8h0M628.6 1096.8h0M629.1 1095.7h0M629.2 1094.5h0M629.3 1093.3h0M629.4 1092.1h0M629.5 1090.8h0M629.1 1089.2h0M629.0 1087.9h0M629.0 1086.5h0M628.9 1085.2h0M629.1 1084.1h0" stroke="#00ffff" stroke-width="3.89" stroke-linecap="round" fill="none"/>
<path transform="scale(1,0.8333)" d="M629.3 1083.0h0M629.5 1082.0h0M630.4 1081.2h0M631.2 1080.3h0M632.0 1079.5h0M632.9 1078.7h0M633.9 1078.1h0M634.9 1077.5h0M635.9 1076.9h0M636.9 1076.3h0M637.8 1075.8h0M638.7 1075.2h0M639.5 1074.7h0M640.1 1073.6h0M640.6 1072.5h0M641.2 1071.5h0M642.0 1070.7h0M642.9 1069.9h0M643.6 1068.9h0M644.2 1067.9h0M644.9 1066.9h0M645.6 1066.0h0M646.2 1065.0h0M646.9 1064.2h0M647.6 1063.4h0M648.2 1062.6h0M648.9 1061.8h0M649.6 1061.0h0M650.2 1060.2h0M651.1 1059.4h0M651.9 1058.6h0M652.7 1057.7h0" stroke="#8000ff" stroke-width="3.89" stroke-linecap="round" fill="none"/>
<path transform="scale(1,0.8333)" d="M653.6 1056.9h0M653.9 1055.9h0M654.2 1054.9h0M654.6 1053.9h0M654.9 1052.9h0M655.1 1051.6h0M655.4 1050.2h0M655.6 1048.9h0M655.8 1047.5h0M656.0 1046.2h0M656.3 1044.8h0M656.8 1043.8h0M657.3 1042.8h0M657.8 1041.8h0M658.3 1040.8h0M658.9 1040.0h0M659.6 1039.2h0M660.3 1038.4h0M660.9 1037.6h0M661.8 1036.8h0M662.7 1036.0h0M663.6 1035.1h0M664.4 1034.7h0M665.3 1034.3h0M666.1 1033.9h0M666.9 1033.5h0M668.1 1032.7h0M669.2 1031.9h0M669.3 1030.8h0M669.5 1029.8h0M669.6 1028.7h0M669.8 1027.6h0M670.1 1026.5h0M670.3 1025.5h0M670.9 1024.2h0" stroke="#80ff00" stroke-width="3.89" stroke-linecap="round" fill="none"/>
<path transform="scale(1,0.8333)" d="M510.1 1145.4h0M543.2 1132.8h0M559.2 1132.6h0M581.2 1125.6h0" stroke="#ff0000" stroke-width="3.24" stroke-linecap="round" fill="none"/>
<circle cx="560.2" cy="942.2" r="2.35" fill="none" stroke="#000" stroke-width="1.25"/>
<circle cx="618.5" cy="920.5" r="2.35" fill="none" stroke="#000" stroke-width="1.25"/>
<circle cx="642.8" cy="891.6" r="2.35" fill="none" stroke="#000" stroke-width="1.25"/>
<circle cx="659.4" cy="868.9" r="2.35" fill="none" stroke="#000" stroke-width="1.25"/>
<rect x="567.5" y="840.0" width="46.5" height="48.4" fill="#fff" stroke="#777" stroke-width="0.9"/>
<circle cx="580.3" cy="846.0" r="1.5" fill="#ff0000"/>
<text x="593.2" y="848.5" class="lgc">1</text>
<circle cx="580.3" cy="855.2" r="1.5" fill="#80ff00"/>
<text x="593.2" y="857.7" class="lgc">2</text>
<circle cx="580.3" cy="864.4" r="1.5" fill="#00ffff"/>
<text x="593.2" y="866.9" class="lgc">3</text>
<circle cx="580.3" cy="873.6" r="1.5" fill="#8000ff"/>
<text x="593.2" y="876.1" class="lgc">4</text>
<circle cx="580.3" cy="882.8" r="2.2" fill="none" stroke="#000" stroke-width="1.1"/>
<text x="593.2" y="885.3" class="lgc">data1</text>
<text x="353.2" y="305.3" class="pl" text-anchor="middle">(a)</text>
<text x="355.8" y="628.3" class="pl" text-anchor="middle">(b)</text>
<text x="355.7" y="995.6" class="pl" text-anchor="middle">(c)</text>
</svg>
</body></html>
